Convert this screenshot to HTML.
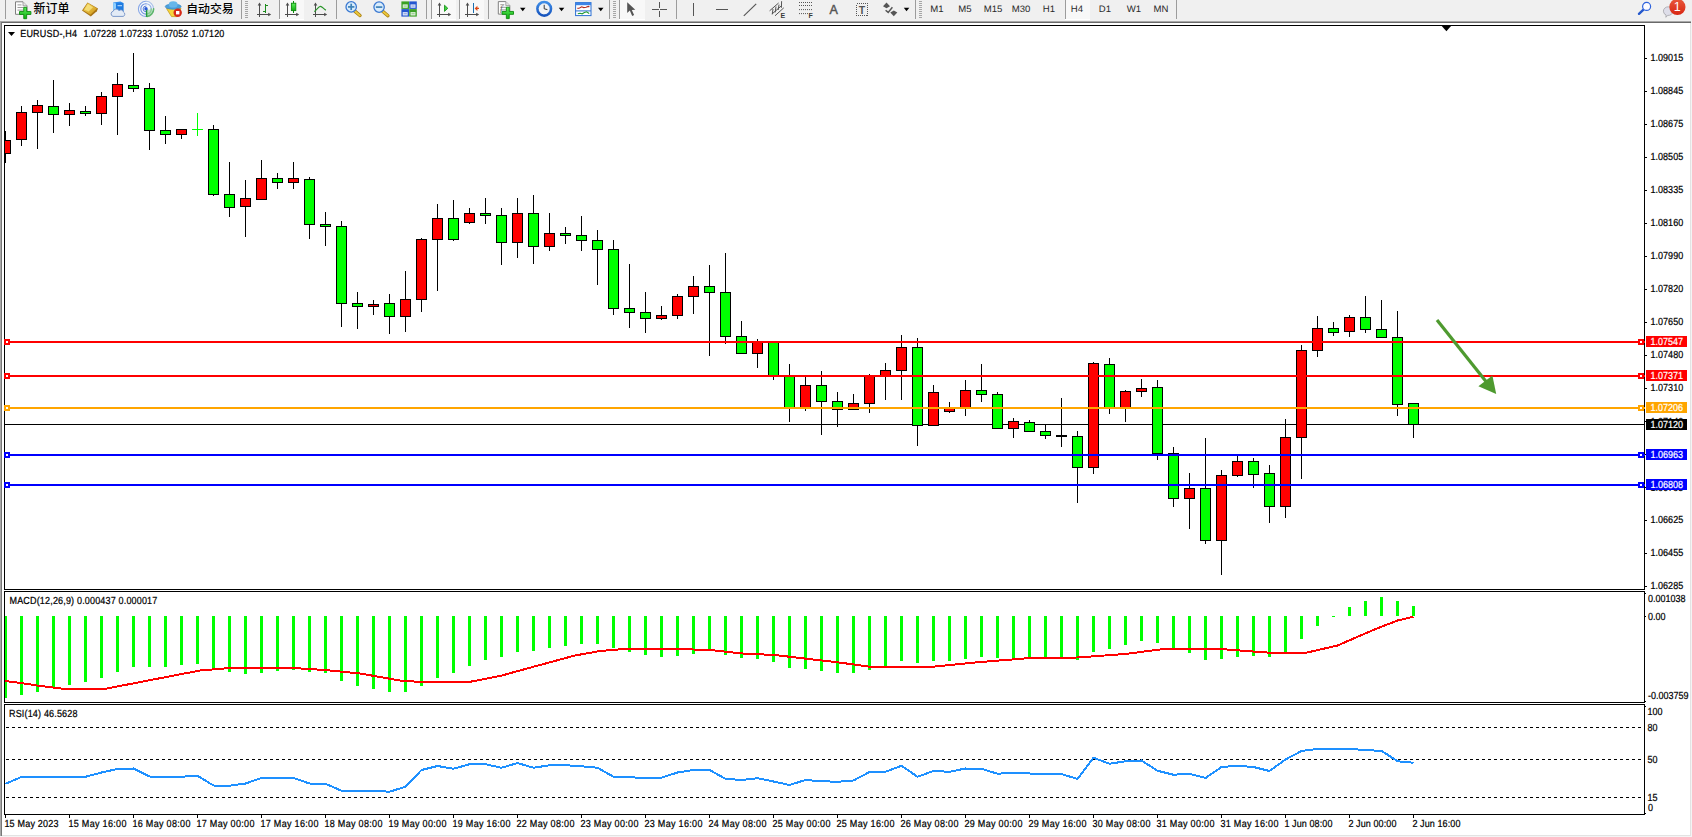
<!DOCTYPE html>
<html lang="zh-CN">
<head>
<meta charset="utf-8">
<title>EURUSD-,H4</title>
<style>
html,body{margin:0;padding:0;}
body{width:1692px;height:837px;overflow:hidden;background:#f0f0f0;position:relative;font-family:"Liberation Sans","Noto Sans CJK SC",sans-serif;}
#tb{position:absolute;left:0;top:0;width:1692px;height:21px;background:#f0f0f0;overflow:hidden;}
#tb .t{position:absolute;white-space:nowrap;color:#000;}
#tb .tf{position:absolute;top:4.4px;font-size:9.3px;line-height:11px;color:#2a2a2a;white-space:nowrap;text-rendering:geometricPrecision;transform:scaleX(1.03);transform-origin:50% 50%;}
#tb .sep{position:absolute;top:1px;width:1px;height:18px;background:#a0a0a0;}
#tb svg{position:absolute;left:0;top:0;}
</style>
</head>
<body>
<svg id="chart" width="1692" height="837" viewBox="0 0 1692 837" style="position:absolute;left:0;top:0">
<g shape-rendering="crispEdges">
<rect x="0" y="21" width="1692" height="816" fill="#ffffff"/>
<rect x="0" y="20" width="1692" height="1" fill="#f5f5f5"/>
<rect x="0" y="21" width="1692" height="1" fill="#a8a8a8"/>
<rect x="0" y="22" width="1692" height="1" fill="#696969"/>
<rect x="0" y="21" width="1" height="816" fill="#a8a8a8"/>
<rect x="1" y="22" width="1" height="815" fill="#787878"/>
<rect x="1690" y="23" width="1" height="813" fill="#e3e3e3"/>
<rect x="2" y="835" width="1689" height="1" fill="#e3e3e3"/>
<rect x="1691" y="21" width="1" height="816" fill="#f4f4f4"/>
<rect x="0" y="836" width="1692" height="1" fill="#f4f4f4"/>
<rect x="4" y="25" width="1641" height="1" fill="#000"/>
<rect x="4" y="589" width="1641" height="1" fill="#000"/>
<rect x="4" y="25" width="1" height="565" fill="#000"/>
<rect x="1644" y="25" width="1" height="565" fill="#000"/>
<rect x="4" y="591" width="1641" height="1" fill="#000"/>
<rect x="4" y="702" width="1641" height="1" fill="#000"/>
<rect x="4" y="591" width="1" height="112" fill="#000"/>
<rect x="1644" y="591" width="1" height="112" fill="#000"/>
<rect x="4" y="704" width="1641" height="1" fill="#000"/>
<rect x="4" y="814" width="1641" height="1" fill="#000"/>
<rect x="4" y="704" width="1" height="111" fill="#000"/>
<rect x="1644" y="704" width="1" height="111" fill="#000"/>
<rect x="5" y="424" width="1639" height="1" fill="#000"/>
<rect x="5" y="131" width="1" height="32" fill="#000"/>
<rect x="5" y="140" width="6" height="14" fill="#000"/>
<rect x="5" y="141" width="5" height="12" fill="#ff0000"/>
<rect x="21" y="106" width="1" height="40" fill="#000"/>
<rect x="16" y="112" width="11" height="28" fill="#000"/>
<rect x="17" y="113" width="9" height="26" fill="#ff0000"/>
<rect x="37" y="100" width="1" height="49" fill="#000"/>
<rect x="32" y="105" width="11" height="8" fill="#000"/>
<rect x="33" y="106" width="9" height="6" fill="#ff0000"/>
<rect x="53" y="80" width="1" height="53" fill="#000"/>
<rect x="48" y="106" width="11" height="9" fill="#000"/>
<rect x="49" y="107" width="9" height="7" fill="#00ff00"/>
<rect x="69" y="103" width="1" height="23" fill="#000"/>
<rect x="64" y="110" width="11" height="5" fill="#000"/>
<rect x="65" y="111" width="9" height="3" fill="#ff0000"/>
<rect x="85" y="106" width="1" height="10" fill="#000"/>
<rect x="80" y="111" width="11" height="3" fill="#000"/>
<rect x="81" y="112" width="9" height="1" fill="#00ff00"/>
<rect x="101" y="92" width="1" height="33" fill="#000"/>
<rect x="96" y="96" width="11" height="18" fill="#000"/>
<rect x="97" y="97" width="9" height="16" fill="#ff0000"/>
<rect x="117" y="73" width="1" height="62" fill="#000"/>
<rect x="112" y="84" width="11" height="13" fill="#000"/>
<rect x="113" y="85" width="9" height="11" fill="#ff0000"/>
<rect x="133" y="53" width="1" height="39" fill="#000"/>
<rect x="128" y="85" width="11" height="4" fill="#000"/>
<rect x="129" y="86" width="9" height="2" fill="#00ff00"/>
<rect x="149" y="83" width="1" height="67" fill="#000"/>
<rect x="144" y="88" width="11" height="43" fill="#000"/>
<rect x="145" y="89" width="9" height="41" fill="#00ff00"/>
<rect x="165" y="116" width="1" height="28" fill="#000"/>
<rect x="160" y="130" width="11" height="5" fill="#000"/>
<rect x="161" y="131" width="9" height="3" fill="#00ff00"/>
<rect x="181" y="129" width="1" height="10" fill="#000"/>
<rect x="176" y="129" width="11" height="6" fill="#000"/>
<rect x="177" y="130" width="9" height="4" fill="#ff0000"/>
<rect x="197" y="113" width="1" height="23" fill="#00ff00"/>
<rect x="192" y="129" width="11" height="1" fill="#00ff00"/>
<rect x="213" y="125" width="1" height="71" fill="#000"/>
<rect x="208" y="129" width="11" height="66" fill="#000"/>
<rect x="209" y="130" width="9" height="64" fill="#00ff00"/>
<rect x="229" y="162" width="1" height="55" fill="#000"/>
<rect x="224" y="194" width="11" height="14" fill="#000"/>
<rect x="225" y="195" width="9" height="12" fill="#00ff00"/>
<rect x="245" y="180" width="1" height="57" fill="#000"/>
<rect x="240" y="198" width="11" height="9" fill="#000"/>
<rect x="241" y="199" width="9" height="7" fill="#ff0000"/>
<rect x="261" y="160" width="1" height="40" fill="#000"/>
<rect x="256" y="178" width="11" height="22" fill="#000"/>
<rect x="257" y="179" width="9" height="20" fill="#ff0000"/>
<rect x="277" y="173" width="1" height="16" fill="#000"/>
<rect x="272" y="178" width="11" height="5" fill="#000"/>
<rect x="273" y="179" width="9" height="3" fill="#00ff00"/>
<rect x="293" y="162" width="1" height="27" fill="#000"/>
<rect x="288" y="178" width="11" height="5" fill="#000"/>
<rect x="289" y="179" width="9" height="3" fill="#ff0000"/>
<rect x="309" y="177" width="1" height="62" fill="#000"/>
<rect x="304" y="179" width="11" height="46" fill="#000"/>
<rect x="305" y="180" width="9" height="44" fill="#00ff00"/>
<rect x="325" y="212" width="1" height="34" fill="#000"/>
<rect x="320" y="224" width="11" height="3" fill="#000"/>
<rect x="321" y="225" width="9" height="1" fill="#00ff00"/>
<rect x="341" y="221" width="1" height="106" fill="#000"/>
<rect x="336" y="226" width="11" height="78" fill="#000"/>
<rect x="337" y="227" width="9" height="76" fill="#00ff00"/>
<rect x="357" y="292" width="1" height="37" fill="#000"/>
<rect x="352" y="303" width="11" height="4" fill="#000"/>
<rect x="353" y="304" width="9" height="2" fill="#00ff00"/>
<rect x="373" y="300" width="1" height="15" fill="#000"/>
<rect x="368" y="304" width="11" height="3" fill="#000"/>
<rect x="369" y="305" width="9" height="1" fill="#ff0000"/>
<rect x="389" y="294" width="1" height="40" fill="#000"/>
<rect x="384" y="303" width="11" height="14" fill="#000"/>
<rect x="385" y="304" width="9" height="12" fill="#00ff00"/>
<rect x="405" y="271" width="1" height="61" fill="#000"/>
<rect x="400" y="299" width="11" height="18" fill="#000"/>
<rect x="401" y="300" width="9" height="16" fill="#ff0000"/>
<rect x="421" y="238" width="1" height="74" fill="#000"/>
<rect x="416" y="239" width="11" height="61" fill="#000"/>
<rect x="417" y="240" width="9" height="59" fill="#ff0000"/>
<rect x="437" y="204" width="1" height="87" fill="#000"/>
<rect x="432" y="218" width="11" height="22" fill="#000"/>
<rect x="433" y="219" width="9" height="20" fill="#ff0000"/>
<rect x="453" y="200" width="1" height="41" fill="#000"/>
<rect x="448" y="218" width="11" height="22" fill="#000"/>
<rect x="449" y="219" width="9" height="20" fill="#00ff00"/>
<rect x="469" y="208" width="1" height="16" fill="#000"/>
<rect x="464" y="213" width="11" height="10" fill="#000"/>
<rect x="465" y="214" width="9" height="8" fill="#ff0000"/>
<rect x="485" y="198" width="1" height="26" fill="#000"/>
<rect x="480" y="213" width="11" height="3" fill="#000"/>
<rect x="481" y="214" width="9" height="1" fill="#00ff00"/>
<rect x="501" y="208" width="1" height="57" fill="#000"/>
<rect x="496" y="215" width="11" height="28" fill="#000"/>
<rect x="497" y="216" width="9" height="26" fill="#00ff00"/>
<rect x="517" y="198" width="1" height="60" fill="#000"/>
<rect x="512" y="213" width="11" height="30" fill="#000"/>
<rect x="513" y="214" width="9" height="28" fill="#ff0000"/>
<rect x="533" y="195" width="1" height="69" fill="#000"/>
<rect x="528" y="213" width="11" height="34" fill="#000"/>
<rect x="529" y="214" width="9" height="32" fill="#00ff00"/>
<rect x="549" y="213" width="1" height="38" fill="#000"/>
<rect x="544" y="233" width="11" height="14" fill="#000"/>
<rect x="545" y="234" width="9" height="12" fill="#ff0000"/>
<rect x="565" y="227" width="1" height="17" fill="#000"/>
<rect x="560" y="233" width="11" height="3" fill="#000"/>
<rect x="561" y="234" width="9" height="1" fill="#00ff00"/>
<rect x="581" y="216" width="1" height="35" fill="#000"/>
<rect x="576" y="235" width="11" height="6" fill="#000"/>
<rect x="577" y="236" width="9" height="4" fill="#00ff00"/>
<rect x="597" y="230" width="1" height="55" fill="#000"/>
<rect x="592" y="240" width="11" height="10" fill="#000"/>
<rect x="593" y="241" width="9" height="8" fill="#00ff00"/>
<rect x="613" y="240" width="1" height="75" fill="#000"/>
<rect x="608" y="249" width="11" height="60" fill="#000"/>
<rect x="609" y="250" width="9" height="58" fill="#00ff00"/>
<rect x="629" y="264" width="1" height="64" fill="#000"/>
<rect x="624" y="308" width="11" height="5" fill="#000"/>
<rect x="625" y="309" width="9" height="3" fill="#00ff00"/>
<rect x="645" y="292" width="1" height="41" fill="#000"/>
<rect x="640" y="312" width="11" height="7" fill="#000"/>
<rect x="641" y="313" width="9" height="5" fill="#00ff00"/>
<rect x="661" y="306" width="1" height="14" fill="#000"/>
<rect x="656" y="315" width="11" height="4" fill="#000"/>
<rect x="657" y="316" width="9" height="2" fill="#ff0000"/>
<rect x="677" y="294" width="1" height="25" fill="#000"/>
<rect x="672" y="296" width="11" height="20" fill="#000"/>
<rect x="673" y="297" width="9" height="18" fill="#ff0000"/>
<rect x="693" y="276" width="1" height="38" fill="#000"/>
<rect x="688" y="286" width="11" height="11" fill="#000"/>
<rect x="689" y="287" width="9" height="9" fill="#ff0000"/>
<rect x="709" y="265" width="1" height="91" fill="#000"/>
<rect x="704" y="286" width="11" height="7" fill="#000"/>
<rect x="705" y="287" width="9" height="5" fill="#00ff00"/>
<rect x="725" y="253" width="1" height="91" fill="#000"/>
<rect x="720" y="292" width="11" height="45" fill="#000"/>
<rect x="721" y="293" width="9" height="43" fill="#00ff00"/>
<rect x="741" y="321" width="1" height="33" fill="#000"/>
<rect x="736" y="336" width="11" height="18" fill="#000"/>
<rect x="737" y="337" width="9" height="16" fill="#00ff00"/>
<rect x="757" y="339" width="1" height="29" fill="#000"/>
<rect x="752" y="341" width="11" height="13" fill="#000"/>
<rect x="753" y="342" width="9" height="11" fill="#ff0000"/>
<rect x="773" y="341" width="1" height="39" fill="#000"/>
<rect x="768" y="341" width="11" height="36" fill="#000"/>
<rect x="769" y="342" width="9" height="34" fill="#00ff00"/>
<rect x="789" y="364" width="1" height="58" fill="#000"/>
<rect x="784" y="376" width="11" height="32" fill="#000"/>
<rect x="785" y="377" width="9" height="30" fill="#00ff00"/>
<rect x="805" y="377" width="1" height="34" fill="#000"/>
<rect x="800" y="385" width="11" height="23" fill="#000"/>
<rect x="801" y="386" width="9" height="21" fill="#ff0000"/>
<rect x="821" y="371" width="1" height="64" fill="#000"/>
<rect x="816" y="385" width="11" height="17" fill="#000"/>
<rect x="817" y="386" width="9" height="15" fill="#00ff00"/>
<rect x="837" y="392" width="1" height="35" fill="#000"/>
<rect x="832" y="401" width="11" height="9" fill="#000"/>
<rect x="833" y="402" width="9" height="7" fill="#00ff00"/>
<rect x="853" y="394" width="1" height="16" fill="#000"/>
<rect x="848" y="403" width="11" height="7" fill="#000"/>
<rect x="849" y="404" width="9" height="5" fill="#ff0000"/>
<rect x="869" y="374" width="1" height="39" fill="#000"/>
<rect x="864" y="376" width="11" height="28" fill="#000"/>
<rect x="865" y="377" width="9" height="26" fill="#ff0000"/>
<rect x="885" y="363" width="1" height="37" fill="#000"/>
<rect x="880" y="370" width="11" height="6" fill="#000"/>
<rect x="881" y="371" width="9" height="4" fill="#ff0000"/>
<rect x="901" y="335" width="1" height="65" fill="#000"/>
<rect x="896" y="347" width="11" height="24" fill="#000"/>
<rect x="897" y="348" width="9" height="22" fill="#ff0000"/>
<rect x="917" y="338" width="1" height="108" fill="#000"/>
<rect x="912" y="347" width="11" height="79" fill="#000"/>
<rect x="913" y="348" width="9" height="77" fill="#00ff00"/>
<rect x="933" y="385" width="1" height="41" fill="#000"/>
<rect x="928" y="392" width="11" height="34" fill="#000"/>
<rect x="929" y="393" width="9" height="32" fill="#ff0000"/>
<rect x="949" y="402" width="1" height="11" fill="#000"/>
<rect x="944" y="407" width="11" height="5" fill="#000"/>
<rect x="945" y="408" width="9" height="3" fill="#ff0000"/>
<rect x="965" y="380" width="1" height="36" fill="#000"/>
<rect x="960" y="390" width="11" height="18" fill="#000"/>
<rect x="961" y="391" width="9" height="16" fill="#ff0000"/>
<rect x="981" y="364" width="1" height="38" fill="#000"/>
<rect x="976" y="390" width="11" height="5" fill="#000"/>
<rect x="977" y="391" width="9" height="3" fill="#00ff00"/>
<rect x="997" y="392" width="1" height="37" fill="#000"/>
<rect x="992" y="394" width="11" height="35" fill="#000"/>
<rect x="993" y="395" width="9" height="33" fill="#00ff00"/>
<rect x="1013" y="418" width="1" height="20" fill="#000"/>
<rect x="1008" y="421" width="11" height="8" fill="#000"/>
<rect x="1009" y="422" width="9" height="6" fill="#ff0000"/>
<rect x="1029" y="420" width="1" height="12" fill="#000"/>
<rect x="1024" y="422" width="11" height="10" fill="#000"/>
<rect x="1025" y="423" width="9" height="8" fill="#00ff00"/>
<rect x="1045" y="425" width="1" height="14" fill="#000"/>
<rect x="1040" y="431" width="11" height="5" fill="#000"/>
<rect x="1041" y="432" width="9" height="3" fill="#00ff00"/>
<rect x="1061" y="398" width="1" height="49" fill="#000"/>
<rect x="1056" y="435" width="11" height="2" fill="#000"/>
<rect x="1077" y="431" width="1" height="72" fill="#000"/>
<rect x="1072" y="436" width="11" height="32" fill="#000"/>
<rect x="1073" y="437" width="9" height="30" fill="#00ff00"/>
<rect x="1093" y="362" width="1" height="112" fill="#000"/>
<rect x="1088" y="363" width="11" height="105" fill="#000"/>
<rect x="1089" y="364" width="9" height="103" fill="#ff0000"/>
<rect x="1109" y="358" width="1" height="56" fill="#000"/>
<rect x="1104" y="364" width="11" height="44" fill="#000"/>
<rect x="1105" y="365" width="9" height="42" fill="#00ff00"/>
<rect x="1125" y="390" width="1" height="32" fill="#000"/>
<rect x="1120" y="391" width="11" height="17" fill="#000"/>
<rect x="1121" y="392" width="9" height="15" fill="#ff0000"/>
<rect x="1141" y="379" width="1" height="18" fill="#000"/>
<rect x="1136" y="388" width="11" height="4" fill="#000"/>
<rect x="1137" y="389" width="9" height="2" fill="#ff0000"/>
<rect x="1157" y="380" width="1" height="80" fill="#000"/>
<rect x="1152" y="387" width="11" height="67" fill="#000"/>
<rect x="1153" y="388" width="9" height="65" fill="#00ff00"/>
<rect x="1173" y="447" width="1" height="60" fill="#000"/>
<rect x="1168" y="453" width="11" height="46" fill="#000"/>
<rect x="1169" y="454" width="9" height="44" fill="#00ff00"/>
<rect x="1189" y="473" width="1" height="56" fill="#000"/>
<rect x="1184" y="488" width="11" height="11" fill="#000"/>
<rect x="1185" y="489" width="9" height="9" fill="#ff0000"/>
<rect x="1205" y="438" width="1" height="106" fill="#000"/>
<rect x="1200" y="488" width="11" height="53" fill="#000"/>
<rect x="1201" y="489" width="9" height="51" fill="#00ff00"/>
<rect x="1221" y="470" width="1" height="105" fill="#000"/>
<rect x="1216" y="475" width="11" height="66" fill="#000"/>
<rect x="1217" y="476" width="9" height="64" fill="#ff0000"/>
<rect x="1237" y="456" width="1" height="21" fill="#000"/>
<rect x="1232" y="461" width="11" height="15" fill="#000"/>
<rect x="1233" y="462" width="9" height="13" fill="#ff0000"/>
<rect x="1253" y="458" width="1" height="30" fill="#000"/>
<rect x="1248" y="461" width="11" height="14" fill="#000"/>
<rect x="1249" y="462" width="9" height="12" fill="#00ff00"/>
<rect x="1269" y="465" width="1" height="58" fill="#000"/>
<rect x="1264" y="473" width="11" height="34" fill="#000"/>
<rect x="1265" y="474" width="9" height="32" fill="#00ff00"/>
<rect x="1285" y="419" width="1" height="99" fill="#000"/>
<rect x="1280" y="437" width="11" height="70" fill="#000"/>
<rect x="1281" y="438" width="9" height="68" fill="#ff0000"/>
<rect x="1301" y="345" width="1" height="134" fill="#000"/>
<rect x="1296" y="350" width="11" height="88" fill="#000"/>
<rect x="1297" y="351" width="9" height="86" fill="#ff0000"/>
<rect x="1317" y="316" width="1" height="41" fill="#000"/>
<rect x="1312" y="328" width="11" height="23" fill="#000"/>
<rect x="1313" y="329" width="9" height="21" fill="#ff0000"/>
<rect x="1333" y="322" width="1" height="14" fill="#000"/>
<rect x="1328" y="328" width="11" height="5" fill="#000"/>
<rect x="1329" y="329" width="9" height="3" fill="#00ff00"/>
<rect x="1349" y="315" width="1" height="22" fill="#000"/>
<rect x="1344" y="317" width="11" height="15" fill="#000"/>
<rect x="1345" y="318" width="9" height="13" fill="#ff0000"/>
<rect x="1365" y="296" width="1" height="37" fill="#000"/>
<rect x="1360" y="317" width="11" height="13" fill="#000"/>
<rect x="1361" y="318" width="9" height="11" fill="#00ff00"/>
<rect x="1381" y="300" width="1" height="38" fill="#000"/>
<rect x="1376" y="329" width="11" height="9" fill="#000"/>
<rect x="1377" y="330" width="9" height="7" fill="#00ff00"/>
<rect x="1397" y="311" width="1" height="105" fill="#000"/>
<rect x="1392" y="337" width="11" height="68" fill="#000"/>
<rect x="1393" y="338" width="9" height="66" fill="#00ff00"/>
<rect x="1413" y="403" width="1" height="35" fill="#000"/>
<rect x="1408" y="403" width="11" height="22" fill="#000"/>
<rect x="1409" y="404" width="9" height="20" fill="#00ff00"/>
<rect x="5" y="341" width="1640" height="2" fill="#ff0000"/>
<rect x="4" y="339" width="6" height="6" fill="#ff0000"/>
<rect x="6" y="341" width="2" height="2" fill="#fff"/>
<rect x="1638" y="339" width="6" height="6" fill="#ff0000"/>
<rect x="1640" y="341" width="2" height="2" fill="#fff"/>
<rect x="5" y="375" width="1640" height="2" fill="#ff0000"/>
<rect x="4" y="373" width="6" height="6" fill="#ff0000"/>
<rect x="6" y="375" width="2" height="2" fill="#fff"/>
<rect x="1638" y="373" width="6" height="6" fill="#ff0000"/>
<rect x="1640" y="375" width="2" height="2" fill="#fff"/>
<rect x="5" y="407" width="1640" height="2" fill="#ffa500"/>
<rect x="4" y="405" width="6" height="6" fill="#ffa500"/>
<rect x="6" y="407" width="2" height="2" fill="#fff"/>
<rect x="1638" y="405" width="6" height="6" fill="#ffa500"/>
<rect x="1640" y="407" width="2" height="2" fill="#fff"/>
<rect x="5" y="454" width="1640" height="2" fill="#0000ff"/>
<rect x="4" y="452" width="6" height="6" fill="#0000ff"/>
<rect x="6" y="454" width="2" height="2" fill="#fff"/>
<rect x="1638" y="452" width="6" height="6" fill="#0000ff"/>
<rect x="1640" y="454" width="2" height="2" fill="#fff"/>
<rect x="5" y="484" width="1640" height="2" fill="#0000ff"/>
<rect x="4" y="482" width="6" height="6" fill="#0000ff"/>
<rect x="6" y="484" width="2" height="2" fill="#fff"/>
<rect x="1638" y="482" width="6" height="6" fill="#0000ff"/>
<rect x="1640" y="484" width="2" height="2" fill="#fff"/>
<rect x="5" y="616" width="2" height="81.5" fill="#00ff00"/>
<rect x="20" y="616" width="3" height="79" fill="#00ff00"/>
<rect x="36" y="616" width="3" height="75.75" fill="#00ff00"/>
<rect x="52" y="616" width="3" height="72" fill="#00ff00"/>
<rect x="68" y="616" width="3" height="68.75" fill="#00ff00"/>
<rect x="84" y="616" width="3" height="65.75" fill="#00ff00"/>
<rect x="100" y="616" width="3" height="61.5" fill="#00ff00"/>
<rect x="116" y="616" width="3" height="55.75" fill="#00ff00"/>
<rect x="132" y="616" width="3" height="50.75" fill="#00ff00"/>
<rect x="148" y="616" width="3" height="50.75" fill="#00ff00"/>
<rect x="164" y="616" width="3" height="50.75" fill="#00ff00"/>
<rect x="180" y="616" width="3" height="48.75" fill="#00ff00"/>
<rect x="196" y="616" width="3" height="47.5" fill="#00ff00"/>
<rect x="212" y="616" width="3" height="52" fill="#00ff00"/>
<rect x="228" y="616" width="3" height="55.75" fill="#00ff00"/>
<rect x="244" y="616" width="3" height="57.75" fill="#00ff00"/>
<rect x="260" y="616" width="3" height="57" fill="#00ff00"/>
<rect x="276" y="616" width="3" height="55" fill="#00ff00"/>
<rect x="292" y="616" width="3" height="54" fill="#00ff00"/>
<rect x="308" y="616" width="3" height="55.75" fill="#00ff00"/>
<rect x="324" y="616" width="3" height="57" fill="#00ff00"/>
<rect x="340" y="616" width="3" height="65" fill="#00ff00"/>
<rect x="356" y="616" width="3" height="70" fill="#00ff00"/>
<rect x="372" y="616" width="3" height="72.75" fill="#00ff00"/>
<rect x="388" y="616" width="3" height="75.75" fill="#00ff00"/>
<rect x="404" y="616" width="3" height="75.75" fill="#00ff00"/>
<rect x="420" y="616" width="3" height="69.5" fill="#00ff00"/>
<rect x="436" y="616" width="3" height="61.5" fill="#00ff00"/>
<rect x="452" y="616" width="3" height="57" fill="#00ff00"/>
<rect x="468" y="616" width="3" height="50" fill="#00ff00"/>
<rect x="484" y="616" width="3" height="43.75" fill="#00ff00"/>
<rect x="500" y="616" width="3" height="40.75" fill="#00ff00"/>
<rect x="516" y="616" width="3" height="35.75" fill="#00ff00"/>
<rect x="532" y="616" width="3" height="34.5" fill="#00ff00"/>
<rect x="548" y="616" width="3" height="32" fill="#00ff00"/>
<rect x="564" y="616" width="3" height="30" fill="#00ff00"/>
<rect x="580" y="616" width="3" height="27.75" fill="#00ff00"/>
<rect x="596" y="616" width="3" height="27.75" fill="#00ff00"/>
<rect x="612" y="616" width="3" height="32" fill="#00ff00"/>
<rect x="628" y="616" width="3" height="35.75" fill="#00ff00"/>
<rect x="644" y="616" width="3" height="39" fill="#00ff00"/>
<rect x="660" y="616" width="3" height="40.75" fill="#00ff00"/>
<rect x="676" y="616" width="3" height="40" fill="#00ff00"/>
<rect x="692" y="616" width="3" height="38" fill="#00ff00"/>
<rect x="708" y="616" width="3" height="35" fill="#00ff00"/>
<rect x="724" y="616" width="3" height="39" fill="#00ff00"/>
<rect x="740" y="616" width="3" height="41.75" fill="#00ff00"/>
<rect x="756" y="616" width="3" height="43" fill="#00ff00"/>
<rect x="772" y="616" width="3" height="46" fill="#00ff00"/>
<rect x="788" y="616" width="3" height="52" fill="#00ff00"/>
<rect x="804" y="616" width="3" height="52.75" fill="#00ff00"/>
<rect x="820" y="616" width="3" height="54.75" fill="#00ff00"/>
<rect x="836" y="616" width="3" height="56.75" fill="#00ff00"/>
<rect x="852" y="616" width="3" height="56.75" fill="#00ff00"/>
<rect x="868" y="616" width="3" height="53.75" fill="#00ff00"/>
<rect x="884" y="616" width="3" height="50" fill="#00ff00"/>
<rect x="900" y="616" width="3" height="45" fill="#00ff00"/>
<rect x="916" y="616" width="3" height="46.75" fill="#00ff00"/>
<rect x="932" y="616" width="3" height="45" fill="#00ff00"/>
<rect x="948" y="616" width="3" height="45" fill="#00ff00"/>
<rect x="964" y="616" width="3" height="43" fill="#00ff00"/>
<rect x="980" y="616" width="3" height="40.75" fill="#00ff00"/>
<rect x="996" y="616" width="3" height="42" fill="#00ff00"/>
<rect x="1012" y="616" width="3" height="42" fill="#00ff00"/>
<rect x="1028" y="616" width="3" height="41.5" fill="#00ff00"/>
<rect x="1044" y="616" width="3" height="41" fill="#00ff00"/>
<rect x="1060" y="616" width="3" height="41" fill="#00ff00"/>
<rect x="1076" y="616" width="3" height="43.75" fill="#00ff00"/>
<rect x="1092" y="616" width="3" height="35.75" fill="#00ff00"/>
<rect x="1108" y="616" width="3" height="32.75" fill="#00ff00"/>
<rect x="1124" y="616" width="3" height="29" fill="#00ff00"/>
<rect x="1140" y="616" width="3" height="24.75" fill="#00ff00"/>
<rect x="1156" y="616" width="3" height="26.75" fill="#00ff00"/>
<rect x="1172" y="616" width="3" height="33" fill="#00ff00"/>
<rect x="1188" y="616" width="3" height="36.75" fill="#00ff00"/>
<rect x="1204" y="616" width="3" height="43.75" fill="#00ff00"/>
<rect x="1220" y="616" width="3" height="42.75" fill="#00ff00"/>
<rect x="1236" y="616" width="3" height="40.75" fill="#00ff00"/>
<rect x="1252" y="616" width="3" height="39.75" fill="#00ff00"/>
<rect x="1268" y="616" width="3" height="40.75" fill="#00ff00"/>
<rect x="1284" y="616" width="3" height="36.5" fill="#00ff00"/>
<rect x="1300" y="616" width="3" height="22.75" fill="#00ff00"/>
<rect x="1316" y="616" width="3" height="9.75" fill="#00ff00"/>
<rect x="1332" y="616" width="3" height="1" fill="#00ff00"/>
<rect x="1348" y="607" width="3" height="9" fill="#00ff00"/>
<rect x="1364" y="601" width="3" height="15" fill="#00ff00"/>
<rect x="1380" y="597" width="3" height="19" fill="#00ff00"/>
<rect x="1396" y="601" width="3" height="15" fill="#00ff00"/>
<rect x="1412" y="606" width="3" height="10" fill="#00ff00"/>
<rect x="6" y="727" width="3" height="1" fill="#000"/>
<rect x="12" y="727" width="3" height="1" fill="#000"/>
<rect x="18" y="727" width="3" height="1" fill="#000"/>
<rect x="24" y="727" width="3" height="1" fill="#000"/>
<rect x="30" y="727" width="3" height="1" fill="#000"/>
<rect x="36" y="727" width="3" height="1" fill="#000"/>
<rect x="42" y="727" width="3" height="1" fill="#000"/>
<rect x="48" y="727" width="3" height="1" fill="#000"/>
<rect x="54" y="727" width="3" height="1" fill="#000"/>
<rect x="60" y="727" width="3" height="1" fill="#000"/>
<rect x="66" y="727" width="3" height="1" fill="#000"/>
<rect x="72" y="727" width="3" height="1" fill="#000"/>
<rect x="78" y="727" width="3" height="1" fill="#000"/>
<rect x="84" y="727" width="3" height="1" fill="#000"/>
<rect x="90" y="727" width="3" height="1" fill="#000"/>
<rect x="96" y="727" width="3" height="1" fill="#000"/>
<rect x="102" y="727" width="3" height="1" fill="#000"/>
<rect x="108" y="727" width="3" height="1" fill="#000"/>
<rect x="114" y="727" width="3" height="1" fill="#000"/>
<rect x="120" y="727" width="3" height="1" fill="#000"/>
<rect x="126" y="727" width="3" height="1" fill="#000"/>
<rect x="132" y="727" width="3" height="1" fill="#000"/>
<rect x="138" y="727" width="3" height="1" fill="#000"/>
<rect x="144" y="727" width="3" height="1" fill="#000"/>
<rect x="150" y="727" width="3" height="1" fill="#000"/>
<rect x="156" y="727" width="3" height="1" fill="#000"/>
<rect x="162" y="727" width="3" height="1" fill="#000"/>
<rect x="168" y="727" width="3" height="1" fill="#000"/>
<rect x="174" y="727" width="3" height="1" fill="#000"/>
<rect x="180" y="727" width="3" height="1" fill="#000"/>
<rect x="186" y="727" width="3" height="1" fill="#000"/>
<rect x="192" y="727" width="3" height="1" fill="#000"/>
<rect x="198" y="727" width="3" height="1" fill="#000"/>
<rect x="204" y="727" width="3" height="1" fill="#000"/>
<rect x="210" y="727" width="3" height="1" fill="#000"/>
<rect x="216" y="727" width="3" height="1" fill="#000"/>
<rect x="222" y="727" width="3" height="1" fill="#000"/>
<rect x="228" y="727" width="3" height="1" fill="#000"/>
<rect x="234" y="727" width="3" height="1" fill="#000"/>
<rect x="240" y="727" width="3" height="1" fill="#000"/>
<rect x="246" y="727" width="3" height="1" fill="#000"/>
<rect x="252" y="727" width="3" height="1" fill="#000"/>
<rect x="258" y="727" width="3" height="1" fill="#000"/>
<rect x="264" y="727" width="3" height="1" fill="#000"/>
<rect x="270" y="727" width="3" height="1" fill="#000"/>
<rect x="276" y="727" width="3" height="1" fill="#000"/>
<rect x="282" y="727" width="3" height="1" fill="#000"/>
<rect x="288" y="727" width="3" height="1" fill="#000"/>
<rect x="294" y="727" width="3" height="1" fill="#000"/>
<rect x="300" y="727" width="3" height="1" fill="#000"/>
<rect x="306" y="727" width="3" height="1" fill="#000"/>
<rect x="312" y="727" width="3" height="1" fill="#000"/>
<rect x="318" y="727" width="3" height="1" fill="#000"/>
<rect x="324" y="727" width="3" height="1" fill="#000"/>
<rect x="330" y="727" width="3" height="1" fill="#000"/>
<rect x="336" y="727" width="3" height="1" fill="#000"/>
<rect x="342" y="727" width="3" height="1" fill="#000"/>
<rect x="348" y="727" width="3" height="1" fill="#000"/>
<rect x="354" y="727" width="3" height="1" fill="#000"/>
<rect x="360" y="727" width="3" height="1" fill="#000"/>
<rect x="366" y="727" width="3" height="1" fill="#000"/>
<rect x="372" y="727" width="3" height="1" fill="#000"/>
<rect x="378" y="727" width="3" height="1" fill="#000"/>
<rect x="384" y="727" width="3" height="1" fill="#000"/>
<rect x="390" y="727" width="3" height="1" fill="#000"/>
<rect x="396" y="727" width="3" height="1" fill="#000"/>
<rect x="402" y="727" width="3" height="1" fill="#000"/>
<rect x="408" y="727" width="3" height="1" fill="#000"/>
<rect x="414" y="727" width="3" height="1" fill="#000"/>
<rect x="420" y="727" width="3" height="1" fill="#000"/>
<rect x="426" y="727" width="3" height="1" fill="#000"/>
<rect x="432" y="727" width="3" height="1" fill="#000"/>
<rect x="438" y="727" width="3" height="1" fill="#000"/>
<rect x="444" y="727" width="3" height="1" fill="#000"/>
<rect x="450" y="727" width="3" height="1" fill="#000"/>
<rect x="456" y="727" width="3" height="1" fill="#000"/>
<rect x="462" y="727" width="3" height="1" fill="#000"/>
<rect x="468" y="727" width="3" height="1" fill="#000"/>
<rect x="474" y="727" width="3" height="1" fill="#000"/>
<rect x="480" y="727" width="3" height="1" fill="#000"/>
<rect x="486" y="727" width="3" height="1" fill="#000"/>
<rect x="492" y="727" width="3" height="1" fill="#000"/>
<rect x="498" y="727" width="3" height="1" fill="#000"/>
<rect x="504" y="727" width="3" height="1" fill="#000"/>
<rect x="510" y="727" width="3" height="1" fill="#000"/>
<rect x="516" y="727" width="3" height="1" fill="#000"/>
<rect x="522" y="727" width="3" height="1" fill="#000"/>
<rect x="528" y="727" width="3" height="1" fill="#000"/>
<rect x="534" y="727" width="3" height="1" fill="#000"/>
<rect x="540" y="727" width="3" height="1" fill="#000"/>
<rect x="546" y="727" width="3" height="1" fill="#000"/>
<rect x="552" y="727" width="3" height="1" fill="#000"/>
<rect x="558" y="727" width="3" height="1" fill="#000"/>
<rect x="564" y="727" width="3" height="1" fill="#000"/>
<rect x="570" y="727" width="3" height="1" fill="#000"/>
<rect x="576" y="727" width="3" height="1" fill="#000"/>
<rect x="582" y="727" width="3" height="1" fill="#000"/>
<rect x="588" y="727" width="3" height="1" fill="#000"/>
<rect x="594" y="727" width="3" height="1" fill="#000"/>
<rect x="600" y="727" width="3" height="1" fill="#000"/>
<rect x="606" y="727" width="3" height="1" fill="#000"/>
<rect x="612" y="727" width="3" height="1" fill="#000"/>
<rect x="618" y="727" width="3" height="1" fill="#000"/>
<rect x="624" y="727" width="3" height="1" fill="#000"/>
<rect x="630" y="727" width="3" height="1" fill="#000"/>
<rect x="636" y="727" width="3" height="1" fill="#000"/>
<rect x="642" y="727" width="3" height="1" fill="#000"/>
<rect x="648" y="727" width="3" height="1" fill="#000"/>
<rect x="654" y="727" width="3" height="1" fill="#000"/>
<rect x="660" y="727" width="3" height="1" fill="#000"/>
<rect x="666" y="727" width="3" height="1" fill="#000"/>
<rect x="672" y="727" width="3" height="1" fill="#000"/>
<rect x="678" y="727" width="3" height="1" fill="#000"/>
<rect x="684" y="727" width="3" height="1" fill="#000"/>
<rect x="690" y="727" width="3" height="1" fill="#000"/>
<rect x="696" y="727" width="3" height="1" fill="#000"/>
<rect x="702" y="727" width="3" height="1" fill="#000"/>
<rect x="708" y="727" width="3" height="1" fill="#000"/>
<rect x="714" y="727" width="3" height="1" fill="#000"/>
<rect x="720" y="727" width="3" height="1" fill="#000"/>
<rect x="726" y="727" width="3" height="1" fill="#000"/>
<rect x="732" y="727" width="3" height="1" fill="#000"/>
<rect x="738" y="727" width="3" height="1" fill="#000"/>
<rect x="744" y="727" width="3" height="1" fill="#000"/>
<rect x="750" y="727" width="3" height="1" fill="#000"/>
<rect x="756" y="727" width="3" height="1" fill="#000"/>
<rect x="762" y="727" width="3" height="1" fill="#000"/>
<rect x="768" y="727" width="3" height="1" fill="#000"/>
<rect x="774" y="727" width="3" height="1" fill="#000"/>
<rect x="780" y="727" width="3" height="1" fill="#000"/>
<rect x="786" y="727" width="3" height="1" fill="#000"/>
<rect x="792" y="727" width="3" height="1" fill="#000"/>
<rect x="798" y="727" width="3" height="1" fill="#000"/>
<rect x="804" y="727" width="3" height="1" fill="#000"/>
<rect x="810" y="727" width="3" height="1" fill="#000"/>
<rect x="816" y="727" width="3" height="1" fill="#000"/>
<rect x="822" y="727" width="3" height="1" fill="#000"/>
<rect x="828" y="727" width="3" height="1" fill="#000"/>
<rect x="834" y="727" width="3" height="1" fill="#000"/>
<rect x="840" y="727" width="3" height="1" fill="#000"/>
<rect x="846" y="727" width="3" height="1" fill="#000"/>
<rect x="852" y="727" width="3" height="1" fill="#000"/>
<rect x="858" y="727" width="3" height="1" fill="#000"/>
<rect x="864" y="727" width="3" height="1" fill="#000"/>
<rect x="870" y="727" width="3" height="1" fill="#000"/>
<rect x="876" y="727" width="3" height="1" fill="#000"/>
<rect x="882" y="727" width="3" height="1" fill="#000"/>
<rect x="888" y="727" width="3" height="1" fill="#000"/>
<rect x="894" y="727" width="3" height="1" fill="#000"/>
<rect x="900" y="727" width="3" height="1" fill="#000"/>
<rect x="906" y="727" width="3" height="1" fill="#000"/>
<rect x="912" y="727" width="3" height="1" fill="#000"/>
<rect x="918" y="727" width="3" height="1" fill="#000"/>
<rect x="924" y="727" width="3" height="1" fill="#000"/>
<rect x="930" y="727" width="3" height="1" fill="#000"/>
<rect x="936" y="727" width="3" height="1" fill="#000"/>
<rect x="942" y="727" width="3" height="1" fill="#000"/>
<rect x="948" y="727" width="3" height="1" fill="#000"/>
<rect x="954" y="727" width="3" height="1" fill="#000"/>
<rect x="960" y="727" width="3" height="1" fill="#000"/>
<rect x="966" y="727" width="3" height="1" fill="#000"/>
<rect x="972" y="727" width="3" height="1" fill="#000"/>
<rect x="978" y="727" width="3" height="1" fill="#000"/>
<rect x="984" y="727" width="3" height="1" fill="#000"/>
<rect x="990" y="727" width="3" height="1" fill="#000"/>
<rect x="996" y="727" width="3" height="1" fill="#000"/>
<rect x="1002" y="727" width="3" height="1" fill="#000"/>
<rect x="1008" y="727" width="3" height="1" fill="#000"/>
<rect x="1014" y="727" width="3" height="1" fill="#000"/>
<rect x="1020" y="727" width="3" height="1" fill="#000"/>
<rect x="1026" y="727" width="3" height="1" fill="#000"/>
<rect x="1032" y="727" width="3" height="1" fill="#000"/>
<rect x="1038" y="727" width="3" height="1" fill="#000"/>
<rect x="1044" y="727" width="3" height="1" fill="#000"/>
<rect x="1050" y="727" width="3" height="1" fill="#000"/>
<rect x="1056" y="727" width="3" height="1" fill="#000"/>
<rect x="1062" y="727" width="3" height="1" fill="#000"/>
<rect x="1068" y="727" width="3" height="1" fill="#000"/>
<rect x="1074" y="727" width="3" height="1" fill="#000"/>
<rect x="1080" y="727" width="3" height="1" fill="#000"/>
<rect x="1086" y="727" width="3" height="1" fill="#000"/>
<rect x="1092" y="727" width="3" height="1" fill="#000"/>
<rect x="1098" y="727" width="3" height="1" fill="#000"/>
<rect x="1104" y="727" width="3" height="1" fill="#000"/>
<rect x="1110" y="727" width="3" height="1" fill="#000"/>
<rect x="1116" y="727" width="3" height="1" fill="#000"/>
<rect x="1122" y="727" width="3" height="1" fill="#000"/>
<rect x="1128" y="727" width="3" height="1" fill="#000"/>
<rect x="1134" y="727" width="3" height="1" fill="#000"/>
<rect x="1140" y="727" width="3" height="1" fill="#000"/>
<rect x="1146" y="727" width="3" height="1" fill="#000"/>
<rect x="1152" y="727" width="3" height="1" fill="#000"/>
<rect x="1158" y="727" width="3" height="1" fill="#000"/>
<rect x="1164" y="727" width="3" height="1" fill="#000"/>
<rect x="1170" y="727" width="3" height="1" fill="#000"/>
<rect x="1176" y="727" width="3" height="1" fill="#000"/>
<rect x="1182" y="727" width="3" height="1" fill="#000"/>
<rect x="1188" y="727" width="3" height="1" fill="#000"/>
<rect x="1194" y="727" width="3" height="1" fill="#000"/>
<rect x="1200" y="727" width="3" height="1" fill="#000"/>
<rect x="1206" y="727" width="3" height="1" fill="#000"/>
<rect x="1212" y="727" width="3" height="1" fill="#000"/>
<rect x="1218" y="727" width="3" height="1" fill="#000"/>
<rect x="1224" y="727" width="3" height="1" fill="#000"/>
<rect x="1230" y="727" width="3" height="1" fill="#000"/>
<rect x="1236" y="727" width="3" height="1" fill="#000"/>
<rect x="1242" y="727" width="3" height="1" fill="#000"/>
<rect x="1248" y="727" width="3" height="1" fill="#000"/>
<rect x="1254" y="727" width="3" height="1" fill="#000"/>
<rect x="1260" y="727" width="3" height="1" fill="#000"/>
<rect x="1266" y="727" width="3" height="1" fill="#000"/>
<rect x="1272" y="727" width="3" height="1" fill="#000"/>
<rect x="1278" y="727" width="3" height="1" fill="#000"/>
<rect x="1284" y="727" width="3" height="1" fill="#000"/>
<rect x="1290" y="727" width="3" height="1" fill="#000"/>
<rect x="1296" y="727" width="3" height="1" fill="#000"/>
<rect x="1302" y="727" width="3" height="1" fill="#000"/>
<rect x="1308" y="727" width="3" height="1" fill="#000"/>
<rect x="1314" y="727" width="3" height="1" fill="#000"/>
<rect x="1320" y="727" width="3" height="1" fill="#000"/>
<rect x="1326" y="727" width="3" height="1" fill="#000"/>
<rect x="1332" y="727" width="3" height="1" fill="#000"/>
<rect x="1338" y="727" width="3" height="1" fill="#000"/>
<rect x="1344" y="727" width="3" height="1" fill="#000"/>
<rect x="1350" y="727" width="3" height="1" fill="#000"/>
<rect x="1356" y="727" width="3" height="1" fill="#000"/>
<rect x="1362" y="727" width="3" height="1" fill="#000"/>
<rect x="1368" y="727" width="3" height="1" fill="#000"/>
<rect x="1374" y="727" width="3" height="1" fill="#000"/>
<rect x="1380" y="727" width="3" height="1" fill="#000"/>
<rect x="1386" y="727" width="3" height="1" fill="#000"/>
<rect x="1392" y="727" width="3" height="1" fill="#000"/>
<rect x="1398" y="727" width="3" height="1" fill="#000"/>
<rect x="1404" y="727" width="3" height="1" fill="#000"/>
<rect x="1410" y="727" width="3" height="1" fill="#000"/>
<rect x="1416" y="727" width="3" height="1" fill="#000"/>
<rect x="1422" y="727" width="3" height="1" fill="#000"/>
<rect x="1428" y="727" width="3" height="1" fill="#000"/>
<rect x="1434" y="727" width="3" height="1" fill="#000"/>
<rect x="1440" y="727" width="3" height="1" fill="#000"/>
<rect x="1446" y="727" width="3" height="1" fill="#000"/>
<rect x="1452" y="727" width="3" height="1" fill="#000"/>
<rect x="1458" y="727" width="3" height="1" fill="#000"/>
<rect x="1464" y="727" width="3" height="1" fill="#000"/>
<rect x="1470" y="727" width="3" height="1" fill="#000"/>
<rect x="1476" y="727" width="3" height="1" fill="#000"/>
<rect x="1482" y="727" width="3" height="1" fill="#000"/>
<rect x="1488" y="727" width="3" height="1" fill="#000"/>
<rect x="1494" y="727" width="3" height="1" fill="#000"/>
<rect x="1500" y="727" width="3" height="1" fill="#000"/>
<rect x="1506" y="727" width="3" height="1" fill="#000"/>
<rect x="1512" y="727" width="3" height="1" fill="#000"/>
<rect x="1518" y="727" width="3" height="1" fill="#000"/>
<rect x="1524" y="727" width="3" height="1" fill="#000"/>
<rect x="1530" y="727" width="3" height="1" fill="#000"/>
<rect x="1536" y="727" width="3" height="1" fill="#000"/>
<rect x="1542" y="727" width="3" height="1" fill="#000"/>
<rect x="1548" y="727" width="3" height="1" fill="#000"/>
<rect x="1554" y="727" width="3" height="1" fill="#000"/>
<rect x="1560" y="727" width="3" height="1" fill="#000"/>
<rect x="1566" y="727" width="3" height="1" fill="#000"/>
<rect x="1572" y="727" width="3" height="1" fill="#000"/>
<rect x="1578" y="727" width="3" height="1" fill="#000"/>
<rect x="1584" y="727" width="3" height="1" fill="#000"/>
<rect x="1590" y="727" width="3" height="1" fill="#000"/>
<rect x="1596" y="727" width="3" height="1" fill="#000"/>
<rect x="1602" y="727" width="3" height="1" fill="#000"/>
<rect x="1608" y="727" width="3" height="1" fill="#000"/>
<rect x="1614" y="727" width="3" height="1" fill="#000"/>
<rect x="1620" y="727" width="3" height="1" fill="#000"/>
<rect x="1626" y="727" width="3" height="1" fill="#000"/>
<rect x="1632" y="727" width="3" height="1" fill="#000"/>
<rect x="1638" y="727" width="3" height="1" fill="#000"/>
<rect x="6" y="759" width="3" height="1" fill="#000"/>
<rect x="12" y="759" width="3" height="1" fill="#000"/>
<rect x="18" y="759" width="3" height="1" fill="#000"/>
<rect x="24" y="759" width="3" height="1" fill="#000"/>
<rect x="30" y="759" width="3" height="1" fill="#000"/>
<rect x="36" y="759" width="3" height="1" fill="#000"/>
<rect x="42" y="759" width="3" height="1" fill="#000"/>
<rect x="48" y="759" width="3" height="1" fill="#000"/>
<rect x="54" y="759" width="3" height="1" fill="#000"/>
<rect x="60" y="759" width="3" height="1" fill="#000"/>
<rect x="66" y="759" width="3" height="1" fill="#000"/>
<rect x="72" y="759" width="3" height="1" fill="#000"/>
<rect x="78" y="759" width="3" height="1" fill="#000"/>
<rect x="84" y="759" width="3" height="1" fill="#000"/>
<rect x="90" y="759" width="3" height="1" fill="#000"/>
<rect x="96" y="759" width="3" height="1" fill="#000"/>
<rect x="102" y="759" width="3" height="1" fill="#000"/>
<rect x="108" y="759" width="3" height="1" fill="#000"/>
<rect x="114" y="759" width="3" height="1" fill="#000"/>
<rect x="120" y="759" width="3" height="1" fill="#000"/>
<rect x="126" y="759" width="3" height="1" fill="#000"/>
<rect x="132" y="759" width="3" height="1" fill="#000"/>
<rect x="138" y="759" width="3" height="1" fill="#000"/>
<rect x="144" y="759" width="3" height="1" fill="#000"/>
<rect x="150" y="759" width="3" height="1" fill="#000"/>
<rect x="156" y="759" width="3" height="1" fill="#000"/>
<rect x="162" y="759" width="3" height="1" fill="#000"/>
<rect x="168" y="759" width="3" height="1" fill="#000"/>
<rect x="174" y="759" width="3" height="1" fill="#000"/>
<rect x="180" y="759" width="3" height="1" fill="#000"/>
<rect x="186" y="759" width="3" height="1" fill="#000"/>
<rect x="192" y="759" width="3" height="1" fill="#000"/>
<rect x="198" y="759" width="3" height="1" fill="#000"/>
<rect x="204" y="759" width="3" height="1" fill="#000"/>
<rect x="210" y="759" width="3" height="1" fill="#000"/>
<rect x="216" y="759" width="3" height="1" fill="#000"/>
<rect x="222" y="759" width="3" height="1" fill="#000"/>
<rect x="228" y="759" width="3" height="1" fill="#000"/>
<rect x="234" y="759" width="3" height="1" fill="#000"/>
<rect x="240" y="759" width="3" height="1" fill="#000"/>
<rect x="246" y="759" width="3" height="1" fill="#000"/>
<rect x="252" y="759" width="3" height="1" fill="#000"/>
<rect x="258" y="759" width="3" height="1" fill="#000"/>
<rect x="264" y="759" width="3" height="1" fill="#000"/>
<rect x="270" y="759" width="3" height="1" fill="#000"/>
<rect x="276" y="759" width="3" height="1" fill="#000"/>
<rect x="282" y="759" width="3" height="1" fill="#000"/>
<rect x="288" y="759" width="3" height="1" fill="#000"/>
<rect x="294" y="759" width="3" height="1" fill="#000"/>
<rect x="300" y="759" width="3" height="1" fill="#000"/>
<rect x="306" y="759" width="3" height="1" fill="#000"/>
<rect x="312" y="759" width="3" height="1" fill="#000"/>
<rect x="318" y="759" width="3" height="1" fill="#000"/>
<rect x="324" y="759" width="3" height="1" fill="#000"/>
<rect x="330" y="759" width="3" height="1" fill="#000"/>
<rect x="336" y="759" width="3" height="1" fill="#000"/>
<rect x="342" y="759" width="3" height="1" fill="#000"/>
<rect x="348" y="759" width="3" height="1" fill="#000"/>
<rect x="354" y="759" width="3" height="1" fill="#000"/>
<rect x="360" y="759" width="3" height="1" fill="#000"/>
<rect x="366" y="759" width="3" height="1" fill="#000"/>
<rect x="372" y="759" width="3" height="1" fill="#000"/>
<rect x="378" y="759" width="3" height="1" fill="#000"/>
<rect x="384" y="759" width="3" height="1" fill="#000"/>
<rect x="390" y="759" width="3" height="1" fill="#000"/>
<rect x="396" y="759" width="3" height="1" fill="#000"/>
<rect x="402" y="759" width="3" height="1" fill="#000"/>
<rect x="408" y="759" width="3" height="1" fill="#000"/>
<rect x="414" y="759" width="3" height="1" fill="#000"/>
<rect x="420" y="759" width="3" height="1" fill="#000"/>
<rect x="426" y="759" width="3" height="1" fill="#000"/>
<rect x="432" y="759" width="3" height="1" fill="#000"/>
<rect x="438" y="759" width="3" height="1" fill="#000"/>
<rect x="444" y="759" width="3" height="1" fill="#000"/>
<rect x="450" y="759" width="3" height="1" fill="#000"/>
<rect x="456" y="759" width="3" height="1" fill="#000"/>
<rect x="462" y="759" width="3" height="1" fill="#000"/>
<rect x="468" y="759" width="3" height="1" fill="#000"/>
<rect x="474" y="759" width="3" height="1" fill="#000"/>
<rect x="480" y="759" width="3" height="1" fill="#000"/>
<rect x="486" y="759" width="3" height="1" fill="#000"/>
<rect x="492" y="759" width="3" height="1" fill="#000"/>
<rect x="498" y="759" width="3" height="1" fill="#000"/>
<rect x="504" y="759" width="3" height="1" fill="#000"/>
<rect x="510" y="759" width="3" height="1" fill="#000"/>
<rect x="516" y="759" width="3" height="1" fill="#000"/>
<rect x="522" y="759" width="3" height="1" fill="#000"/>
<rect x="528" y="759" width="3" height="1" fill="#000"/>
<rect x="534" y="759" width="3" height="1" fill="#000"/>
<rect x="540" y="759" width="3" height="1" fill="#000"/>
<rect x="546" y="759" width="3" height="1" fill="#000"/>
<rect x="552" y="759" width="3" height="1" fill="#000"/>
<rect x="558" y="759" width="3" height="1" fill="#000"/>
<rect x="564" y="759" width="3" height="1" fill="#000"/>
<rect x="570" y="759" width="3" height="1" fill="#000"/>
<rect x="576" y="759" width="3" height="1" fill="#000"/>
<rect x="582" y="759" width="3" height="1" fill="#000"/>
<rect x="588" y="759" width="3" height="1" fill="#000"/>
<rect x="594" y="759" width="3" height="1" fill="#000"/>
<rect x="600" y="759" width="3" height="1" fill="#000"/>
<rect x="606" y="759" width="3" height="1" fill="#000"/>
<rect x="612" y="759" width="3" height="1" fill="#000"/>
<rect x="618" y="759" width="3" height="1" fill="#000"/>
<rect x="624" y="759" width="3" height="1" fill="#000"/>
<rect x="630" y="759" width="3" height="1" fill="#000"/>
<rect x="636" y="759" width="3" height="1" fill="#000"/>
<rect x="642" y="759" width="3" height="1" fill="#000"/>
<rect x="648" y="759" width="3" height="1" fill="#000"/>
<rect x="654" y="759" width="3" height="1" fill="#000"/>
<rect x="660" y="759" width="3" height="1" fill="#000"/>
<rect x="666" y="759" width="3" height="1" fill="#000"/>
<rect x="672" y="759" width="3" height="1" fill="#000"/>
<rect x="678" y="759" width="3" height="1" fill="#000"/>
<rect x="684" y="759" width="3" height="1" fill="#000"/>
<rect x="690" y="759" width="3" height="1" fill="#000"/>
<rect x="696" y="759" width="3" height="1" fill="#000"/>
<rect x="702" y="759" width="3" height="1" fill="#000"/>
<rect x="708" y="759" width="3" height="1" fill="#000"/>
<rect x="714" y="759" width="3" height="1" fill="#000"/>
<rect x="720" y="759" width="3" height="1" fill="#000"/>
<rect x="726" y="759" width="3" height="1" fill="#000"/>
<rect x="732" y="759" width="3" height="1" fill="#000"/>
<rect x="738" y="759" width="3" height="1" fill="#000"/>
<rect x="744" y="759" width="3" height="1" fill="#000"/>
<rect x="750" y="759" width="3" height="1" fill="#000"/>
<rect x="756" y="759" width="3" height="1" fill="#000"/>
<rect x="762" y="759" width="3" height="1" fill="#000"/>
<rect x="768" y="759" width="3" height="1" fill="#000"/>
<rect x="774" y="759" width="3" height="1" fill="#000"/>
<rect x="780" y="759" width="3" height="1" fill="#000"/>
<rect x="786" y="759" width="3" height="1" fill="#000"/>
<rect x="792" y="759" width="3" height="1" fill="#000"/>
<rect x="798" y="759" width="3" height="1" fill="#000"/>
<rect x="804" y="759" width="3" height="1" fill="#000"/>
<rect x="810" y="759" width="3" height="1" fill="#000"/>
<rect x="816" y="759" width="3" height="1" fill="#000"/>
<rect x="822" y="759" width="3" height="1" fill="#000"/>
<rect x="828" y="759" width="3" height="1" fill="#000"/>
<rect x="834" y="759" width="3" height="1" fill="#000"/>
<rect x="840" y="759" width="3" height="1" fill="#000"/>
<rect x="846" y="759" width="3" height="1" fill="#000"/>
<rect x="852" y="759" width="3" height="1" fill="#000"/>
<rect x="858" y="759" width="3" height="1" fill="#000"/>
<rect x="864" y="759" width="3" height="1" fill="#000"/>
<rect x="870" y="759" width="3" height="1" fill="#000"/>
<rect x="876" y="759" width="3" height="1" fill="#000"/>
<rect x="882" y="759" width="3" height="1" fill="#000"/>
<rect x="888" y="759" width="3" height="1" fill="#000"/>
<rect x="894" y="759" width="3" height="1" fill="#000"/>
<rect x="900" y="759" width="3" height="1" fill="#000"/>
<rect x="906" y="759" width="3" height="1" fill="#000"/>
<rect x="912" y="759" width="3" height="1" fill="#000"/>
<rect x="918" y="759" width="3" height="1" fill="#000"/>
<rect x="924" y="759" width="3" height="1" fill="#000"/>
<rect x="930" y="759" width="3" height="1" fill="#000"/>
<rect x="936" y="759" width="3" height="1" fill="#000"/>
<rect x="942" y="759" width="3" height="1" fill="#000"/>
<rect x="948" y="759" width="3" height="1" fill="#000"/>
<rect x="954" y="759" width="3" height="1" fill="#000"/>
<rect x="960" y="759" width="3" height="1" fill="#000"/>
<rect x="966" y="759" width="3" height="1" fill="#000"/>
<rect x="972" y="759" width="3" height="1" fill="#000"/>
<rect x="978" y="759" width="3" height="1" fill="#000"/>
<rect x="984" y="759" width="3" height="1" fill="#000"/>
<rect x="990" y="759" width="3" height="1" fill="#000"/>
<rect x="996" y="759" width="3" height="1" fill="#000"/>
<rect x="1002" y="759" width="3" height="1" fill="#000"/>
<rect x="1008" y="759" width="3" height="1" fill="#000"/>
<rect x="1014" y="759" width="3" height="1" fill="#000"/>
<rect x="1020" y="759" width="3" height="1" fill="#000"/>
<rect x="1026" y="759" width="3" height="1" fill="#000"/>
<rect x="1032" y="759" width="3" height="1" fill="#000"/>
<rect x="1038" y="759" width="3" height="1" fill="#000"/>
<rect x="1044" y="759" width="3" height="1" fill="#000"/>
<rect x="1050" y="759" width="3" height="1" fill="#000"/>
<rect x="1056" y="759" width="3" height="1" fill="#000"/>
<rect x="1062" y="759" width="3" height="1" fill="#000"/>
<rect x="1068" y="759" width="3" height="1" fill="#000"/>
<rect x="1074" y="759" width="3" height="1" fill="#000"/>
<rect x="1080" y="759" width="3" height="1" fill="#000"/>
<rect x="1086" y="759" width="3" height="1" fill="#000"/>
<rect x="1092" y="759" width="3" height="1" fill="#000"/>
<rect x="1098" y="759" width="3" height="1" fill="#000"/>
<rect x="1104" y="759" width="3" height="1" fill="#000"/>
<rect x="1110" y="759" width="3" height="1" fill="#000"/>
<rect x="1116" y="759" width="3" height="1" fill="#000"/>
<rect x="1122" y="759" width="3" height="1" fill="#000"/>
<rect x="1128" y="759" width="3" height="1" fill="#000"/>
<rect x="1134" y="759" width="3" height="1" fill="#000"/>
<rect x="1140" y="759" width="3" height="1" fill="#000"/>
<rect x="1146" y="759" width="3" height="1" fill="#000"/>
<rect x="1152" y="759" width="3" height="1" fill="#000"/>
<rect x="1158" y="759" width="3" height="1" fill="#000"/>
<rect x="1164" y="759" width="3" height="1" fill="#000"/>
<rect x="1170" y="759" width="3" height="1" fill="#000"/>
<rect x="1176" y="759" width="3" height="1" fill="#000"/>
<rect x="1182" y="759" width="3" height="1" fill="#000"/>
<rect x="1188" y="759" width="3" height="1" fill="#000"/>
<rect x="1194" y="759" width="3" height="1" fill="#000"/>
<rect x="1200" y="759" width="3" height="1" fill="#000"/>
<rect x="1206" y="759" width="3" height="1" fill="#000"/>
<rect x="1212" y="759" width="3" height="1" fill="#000"/>
<rect x="1218" y="759" width="3" height="1" fill="#000"/>
<rect x="1224" y="759" width="3" height="1" fill="#000"/>
<rect x="1230" y="759" width="3" height="1" fill="#000"/>
<rect x="1236" y="759" width="3" height="1" fill="#000"/>
<rect x="1242" y="759" width="3" height="1" fill="#000"/>
<rect x="1248" y="759" width="3" height="1" fill="#000"/>
<rect x="1254" y="759" width="3" height="1" fill="#000"/>
<rect x="1260" y="759" width="3" height="1" fill="#000"/>
<rect x="1266" y="759" width="3" height="1" fill="#000"/>
<rect x="1272" y="759" width="3" height="1" fill="#000"/>
<rect x="1278" y="759" width="3" height="1" fill="#000"/>
<rect x="1284" y="759" width="3" height="1" fill="#000"/>
<rect x="1290" y="759" width="3" height="1" fill="#000"/>
<rect x="1296" y="759" width="3" height="1" fill="#000"/>
<rect x="1302" y="759" width="3" height="1" fill="#000"/>
<rect x="1308" y="759" width="3" height="1" fill="#000"/>
<rect x="1314" y="759" width="3" height="1" fill="#000"/>
<rect x="1320" y="759" width="3" height="1" fill="#000"/>
<rect x="1326" y="759" width="3" height="1" fill="#000"/>
<rect x="1332" y="759" width="3" height="1" fill="#000"/>
<rect x="1338" y="759" width="3" height="1" fill="#000"/>
<rect x="1344" y="759" width="3" height="1" fill="#000"/>
<rect x="1350" y="759" width="3" height="1" fill="#000"/>
<rect x="1356" y="759" width="3" height="1" fill="#000"/>
<rect x="1362" y="759" width="3" height="1" fill="#000"/>
<rect x="1368" y="759" width="3" height="1" fill="#000"/>
<rect x="1374" y="759" width="3" height="1" fill="#000"/>
<rect x="1380" y="759" width="3" height="1" fill="#000"/>
<rect x="1386" y="759" width="3" height="1" fill="#000"/>
<rect x="1392" y="759" width="3" height="1" fill="#000"/>
<rect x="1398" y="759" width="3" height="1" fill="#000"/>
<rect x="1404" y="759" width="3" height="1" fill="#000"/>
<rect x="1410" y="759" width="3" height="1" fill="#000"/>
<rect x="1416" y="759" width="3" height="1" fill="#000"/>
<rect x="1422" y="759" width="3" height="1" fill="#000"/>
<rect x="1428" y="759" width="3" height="1" fill="#000"/>
<rect x="1434" y="759" width="3" height="1" fill="#000"/>
<rect x="1440" y="759" width="3" height="1" fill="#000"/>
<rect x="1446" y="759" width="3" height="1" fill="#000"/>
<rect x="1452" y="759" width="3" height="1" fill="#000"/>
<rect x="1458" y="759" width="3" height="1" fill="#000"/>
<rect x="1464" y="759" width="3" height="1" fill="#000"/>
<rect x="1470" y="759" width="3" height="1" fill="#000"/>
<rect x="1476" y="759" width="3" height="1" fill="#000"/>
<rect x="1482" y="759" width="3" height="1" fill="#000"/>
<rect x="1488" y="759" width="3" height="1" fill="#000"/>
<rect x="1494" y="759" width="3" height="1" fill="#000"/>
<rect x="1500" y="759" width="3" height="1" fill="#000"/>
<rect x="1506" y="759" width="3" height="1" fill="#000"/>
<rect x="1512" y="759" width="3" height="1" fill="#000"/>
<rect x="1518" y="759" width="3" height="1" fill="#000"/>
<rect x="1524" y="759" width="3" height="1" fill="#000"/>
<rect x="1530" y="759" width="3" height="1" fill="#000"/>
<rect x="1536" y="759" width="3" height="1" fill="#000"/>
<rect x="1542" y="759" width="3" height="1" fill="#000"/>
<rect x="1548" y="759" width="3" height="1" fill="#000"/>
<rect x="1554" y="759" width="3" height="1" fill="#000"/>
<rect x="1560" y="759" width="3" height="1" fill="#000"/>
<rect x="1566" y="759" width="3" height="1" fill="#000"/>
<rect x="1572" y="759" width="3" height="1" fill="#000"/>
<rect x="1578" y="759" width="3" height="1" fill="#000"/>
<rect x="1584" y="759" width="3" height="1" fill="#000"/>
<rect x="1590" y="759" width="3" height="1" fill="#000"/>
<rect x="1596" y="759" width="3" height="1" fill="#000"/>
<rect x="1602" y="759" width="3" height="1" fill="#000"/>
<rect x="1608" y="759" width="3" height="1" fill="#000"/>
<rect x="1614" y="759" width="3" height="1" fill="#000"/>
<rect x="1620" y="759" width="3" height="1" fill="#000"/>
<rect x="1626" y="759" width="3" height="1" fill="#000"/>
<rect x="1632" y="759" width="3" height="1" fill="#000"/>
<rect x="1638" y="759" width="3" height="1" fill="#000"/>
<rect x="6" y="797" width="3" height="1" fill="#000"/>
<rect x="12" y="797" width="3" height="1" fill="#000"/>
<rect x="18" y="797" width="3" height="1" fill="#000"/>
<rect x="24" y="797" width="3" height="1" fill="#000"/>
<rect x="30" y="797" width="3" height="1" fill="#000"/>
<rect x="36" y="797" width="3" height="1" fill="#000"/>
<rect x="42" y="797" width="3" height="1" fill="#000"/>
<rect x="48" y="797" width="3" height="1" fill="#000"/>
<rect x="54" y="797" width="3" height="1" fill="#000"/>
<rect x="60" y="797" width="3" height="1" fill="#000"/>
<rect x="66" y="797" width="3" height="1" fill="#000"/>
<rect x="72" y="797" width="3" height="1" fill="#000"/>
<rect x="78" y="797" width="3" height="1" fill="#000"/>
<rect x="84" y="797" width="3" height="1" fill="#000"/>
<rect x="90" y="797" width="3" height="1" fill="#000"/>
<rect x="96" y="797" width="3" height="1" fill="#000"/>
<rect x="102" y="797" width="3" height="1" fill="#000"/>
<rect x="108" y="797" width="3" height="1" fill="#000"/>
<rect x="114" y="797" width="3" height="1" fill="#000"/>
<rect x="120" y="797" width="3" height="1" fill="#000"/>
<rect x="126" y="797" width="3" height="1" fill="#000"/>
<rect x="132" y="797" width="3" height="1" fill="#000"/>
<rect x="138" y="797" width="3" height="1" fill="#000"/>
<rect x="144" y="797" width="3" height="1" fill="#000"/>
<rect x="150" y="797" width="3" height="1" fill="#000"/>
<rect x="156" y="797" width="3" height="1" fill="#000"/>
<rect x="162" y="797" width="3" height="1" fill="#000"/>
<rect x="168" y="797" width="3" height="1" fill="#000"/>
<rect x="174" y="797" width="3" height="1" fill="#000"/>
<rect x="180" y="797" width="3" height="1" fill="#000"/>
<rect x="186" y="797" width="3" height="1" fill="#000"/>
<rect x="192" y="797" width="3" height="1" fill="#000"/>
<rect x="198" y="797" width="3" height="1" fill="#000"/>
<rect x="204" y="797" width="3" height="1" fill="#000"/>
<rect x="210" y="797" width="3" height="1" fill="#000"/>
<rect x="216" y="797" width="3" height="1" fill="#000"/>
<rect x="222" y="797" width="3" height="1" fill="#000"/>
<rect x="228" y="797" width="3" height="1" fill="#000"/>
<rect x="234" y="797" width="3" height="1" fill="#000"/>
<rect x="240" y="797" width="3" height="1" fill="#000"/>
<rect x="246" y="797" width="3" height="1" fill="#000"/>
<rect x="252" y="797" width="3" height="1" fill="#000"/>
<rect x="258" y="797" width="3" height="1" fill="#000"/>
<rect x="264" y="797" width="3" height="1" fill="#000"/>
<rect x="270" y="797" width="3" height="1" fill="#000"/>
<rect x="276" y="797" width="3" height="1" fill="#000"/>
<rect x="282" y="797" width="3" height="1" fill="#000"/>
<rect x="288" y="797" width="3" height="1" fill="#000"/>
<rect x="294" y="797" width="3" height="1" fill="#000"/>
<rect x="300" y="797" width="3" height="1" fill="#000"/>
<rect x="306" y="797" width="3" height="1" fill="#000"/>
<rect x="312" y="797" width="3" height="1" fill="#000"/>
<rect x="318" y="797" width="3" height="1" fill="#000"/>
<rect x="324" y="797" width="3" height="1" fill="#000"/>
<rect x="330" y="797" width="3" height="1" fill="#000"/>
<rect x="336" y="797" width="3" height="1" fill="#000"/>
<rect x="342" y="797" width="3" height="1" fill="#000"/>
<rect x="348" y="797" width="3" height="1" fill="#000"/>
<rect x="354" y="797" width="3" height="1" fill="#000"/>
<rect x="360" y="797" width="3" height="1" fill="#000"/>
<rect x="366" y="797" width="3" height="1" fill="#000"/>
<rect x="372" y="797" width="3" height="1" fill="#000"/>
<rect x="378" y="797" width="3" height="1" fill="#000"/>
<rect x="384" y="797" width="3" height="1" fill="#000"/>
<rect x="390" y="797" width="3" height="1" fill="#000"/>
<rect x="396" y="797" width="3" height="1" fill="#000"/>
<rect x="402" y="797" width="3" height="1" fill="#000"/>
<rect x="408" y="797" width="3" height="1" fill="#000"/>
<rect x="414" y="797" width="3" height="1" fill="#000"/>
<rect x="420" y="797" width="3" height="1" fill="#000"/>
<rect x="426" y="797" width="3" height="1" fill="#000"/>
<rect x="432" y="797" width="3" height="1" fill="#000"/>
<rect x="438" y="797" width="3" height="1" fill="#000"/>
<rect x="444" y="797" width="3" height="1" fill="#000"/>
<rect x="450" y="797" width="3" height="1" fill="#000"/>
<rect x="456" y="797" width="3" height="1" fill="#000"/>
<rect x="462" y="797" width="3" height="1" fill="#000"/>
<rect x="468" y="797" width="3" height="1" fill="#000"/>
<rect x="474" y="797" width="3" height="1" fill="#000"/>
<rect x="480" y="797" width="3" height="1" fill="#000"/>
<rect x="486" y="797" width="3" height="1" fill="#000"/>
<rect x="492" y="797" width="3" height="1" fill="#000"/>
<rect x="498" y="797" width="3" height="1" fill="#000"/>
<rect x="504" y="797" width="3" height="1" fill="#000"/>
<rect x="510" y="797" width="3" height="1" fill="#000"/>
<rect x="516" y="797" width="3" height="1" fill="#000"/>
<rect x="522" y="797" width="3" height="1" fill="#000"/>
<rect x="528" y="797" width="3" height="1" fill="#000"/>
<rect x="534" y="797" width="3" height="1" fill="#000"/>
<rect x="540" y="797" width="3" height="1" fill="#000"/>
<rect x="546" y="797" width="3" height="1" fill="#000"/>
<rect x="552" y="797" width="3" height="1" fill="#000"/>
<rect x="558" y="797" width="3" height="1" fill="#000"/>
<rect x="564" y="797" width="3" height="1" fill="#000"/>
<rect x="570" y="797" width="3" height="1" fill="#000"/>
<rect x="576" y="797" width="3" height="1" fill="#000"/>
<rect x="582" y="797" width="3" height="1" fill="#000"/>
<rect x="588" y="797" width="3" height="1" fill="#000"/>
<rect x="594" y="797" width="3" height="1" fill="#000"/>
<rect x="600" y="797" width="3" height="1" fill="#000"/>
<rect x="606" y="797" width="3" height="1" fill="#000"/>
<rect x="612" y="797" width="3" height="1" fill="#000"/>
<rect x="618" y="797" width="3" height="1" fill="#000"/>
<rect x="624" y="797" width="3" height="1" fill="#000"/>
<rect x="630" y="797" width="3" height="1" fill="#000"/>
<rect x="636" y="797" width="3" height="1" fill="#000"/>
<rect x="642" y="797" width="3" height="1" fill="#000"/>
<rect x="648" y="797" width="3" height="1" fill="#000"/>
<rect x="654" y="797" width="3" height="1" fill="#000"/>
<rect x="660" y="797" width="3" height="1" fill="#000"/>
<rect x="666" y="797" width="3" height="1" fill="#000"/>
<rect x="672" y="797" width="3" height="1" fill="#000"/>
<rect x="678" y="797" width="3" height="1" fill="#000"/>
<rect x="684" y="797" width="3" height="1" fill="#000"/>
<rect x="690" y="797" width="3" height="1" fill="#000"/>
<rect x="696" y="797" width="3" height="1" fill="#000"/>
<rect x="702" y="797" width="3" height="1" fill="#000"/>
<rect x="708" y="797" width="3" height="1" fill="#000"/>
<rect x="714" y="797" width="3" height="1" fill="#000"/>
<rect x="720" y="797" width="3" height="1" fill="#000"/>
<rect x="726" y="797" width="3" height="1" fill="#000"/>
<rect x="732" y="797" width="3" height="1" fill="#000"/>
<rect x="738" y="797" width="3" height="1" fill="#000"/>
<rect x="744" y="797" width="3" height="1" fill="#000"/>
<rect x="750" y="797" width="3" height="1" fill="#000"/>
<rect x="756" y="797" width="3" height="1" fill="#000"/>
<rect x="762" y="797" width="3" height="1" fill="#000"/>
<rect x="768" y="797" width="3" height="1" fill="#000"/>
<rect x="774" y="797" width="3" height="1" fill="#000"/>
<rect x="780" y="797" width="3" height="1" fill="#000"/>
<rect x="786" y="797" width="3" height="1" fill="#000"/>
<rect x="792" y="797" width="3" height="1" fill="#000"/>
<rect x="798" y="797" width="3" height="1" fill="#000"/>
<rect x="804" y="797" width="3" height="1" fill="#000"/>
<rect x="810" y="797" width="3" height="1" fill="#000"/>
<rect x="816" y="797" width="3" height="1" fill="#000"/>
<rect x="822" y="797" width="3" height="1" fill="#000"/>
<rect x="828" y="797" width="3" height="1" fill="#000"/>
<rect x="834" y="797" width="3" height="1" fill="#000"/>
<rect x="840" y="797" width="3" height="1" fill="#000"/>
<rect x="846" y="797" width="3" height="1" fill="#000"/>
<rect x="852" y="797" width="3" height="1" fill="#000"/>
<rect x="858" y="797" width="3" height="1" fill="#000"/>
<rect x="864" y="797" width="3" height="1" fill="#000"/>
<rect x="870" y="797" width="3" height="1" fill="#000"/>
<rect x="876" y="797" width="3" height="1" fill="#000"/>
<rect x="882" y="797" width="3" height="1" fill="#000"/>
<rect x="888" y="797" width="3" height="1" fill="#000"/>
<rect x="894" y="797" width="3" height="1" fill="#000"/>
<rect x="900" y="797" width="3" height="1" fill="#000"/>
<rect x="906" y="797" width="3" height="1" fill="#000"/>
<rect x="912" y="797" width="3" height="1" fill="#000"/>
<rect x="918" y="797" width="3" height="1" fill="#000"/>
<rect x="924" y="797" width="3" height="1" fill="#000"/>
<rect x="930" y="797" width="3" height="1" fill="#000"/>
<rect x="936" y="797" width="3" height="1" fill="#000"/>
<rect x="942" y="797" width="3" height="1" fill="#000"/>
<rect x="948" y="797" width="3" height="1" fill="#000"/>
<rect x="954" y="797" width="3" height="1" fill="#000"/>
<rect x="960" y="797" width="3" height="1" fill="#000"/>
<rect x="966" y="797" width="3" height="1" fill="#000"/>
<rect x="972" y="797" width="3" height="1" fill="#000"/>
<rect x="978" y="797" width="3" height="1" fill="#000"/>
<rect x="984" y="797" width="3" height="1" fill="#000"/>
<rect x="990" y="797" width="3" height="1" fill="#000"/>
<rect x="996" y="797" width="3" height="1" fill="#000"/>
<rect x="1002" y="797" width="3" height="1" fill="#000"/>
<rect x="1008" y="797" width="3" height="1" fill="#000"/>
<rect x="1014" y="797" width="3" height="1" fill="#000"/>
<rect x="1020" y="797" width="3" height="1" fill="#000"/>
<rect x="1026" y="797" width="3" height="1" fill="#000"/>
<rect x="1032" y="797" width="3" height="1" fill="#000"/>
<rect x="1038" y="797" width="3" height="1" fill="#000"/>
<rect x="1044" y="797" width="3" height="1" fill="#000"/>
<rect x="1050" y="797" width="3" height="1" fill="#000"/>
<rect x="1056" y="797" width="3" height="1" fill="#000"/>
<rect x="1062" y="797" width="3" height="1" fill="#000"/>
<rect x="1068" y="797" width="3" height="1" fill="#000"/>
<rect x="1074" y="797" width="3" height="1" fill="#000"/>
<rect x="1080" y="797" width="3" height="1" fill="#000"/>
<rect x="1086" y="797" width="3" height="1" fill="#000"/>
<rect x="1092" y="797" width="3" height="1" fill="#000"/>
<rect x="1098" y="797" width="3" height="1" fill="#000"/>
<rect x="1104" y="797" width="3" height="1" fill="#000"/>
<rect x="1110" y="797" width="3" height="1" fill="#000"/>
<rect x="1116" y="797" width="3" height="1" fill="#000"/>
<rect x="1122" y="797" width="3" height="1" fill="#000"/>
<rect x="1128" y="797" width="3" height="1" fill="#000"/>
<rect x="1134" y="797" width="3" height="1" fill="#000"/>
<rect x="1140" y="797" width="3" height="1" fill="#000"/>
<rect x="1146" y="797" width="3" height="1" fill="#000"/>
<rect x="1152" y="797" width="3" height="1" fill="#000"/>
<rect x="1158" y="797" width="3" height="1" fill="#000"/>
<rect x="1164" y="797" width="3" height="1" fill="#000"/>
<rect x="1170" y="797" width="3" height="1" fill="#000"/>
<rect x="1176" y="797" width="3" height="1" fill="#000"/>
<rect x="1182" y="797" width="3" height="1" fill="#000"/>
<rect x="1188" y="797" width="3" height="1" fill="#000"/>
<rect x="1194" y="797" width="3" height="1" fill="#000"/>
<rect x="1200" y="797" width="3" height="1" fill="#000"/>
<rect x="1206" y="797" width="3" height="1" fill="#000"/>
<rect x="1212" y="797" width="3" height="1" fill="#000"/>
<rect x="1218" y="797" width="3" height="1" fill="#000"/>
<rect x="1224" y="797" width="3" height="1" fill="#000"/>
<rect x="1230" y="797" width="3" height="1" fill="#000"/>
<rect x="1236" y="797" width="3" height="1" fill="#000"/>
<rect x="1242" y="797" width="3" height="1" fill="#000"/>
<rect x="1248" y="797" width="3" height="1" fill="#000"/>
<rect x="1254" y="797" width="3" height="1" fill="#000"/>
<rect x="1260" y="797" width="3" height="1" fill="#000"/>
<rect x="1266" y="797" width="3" height="1" fill="#000"/>
<rect x="1272" y="797" width="3" height="1" fill="#000"/>
<rect x="1278" y="797" width="3" height="1" fill="#000"/>
<rect x="1284" y="797" width="3" height="1" fill="#000"/>
<rect x="1290" y="797" width="3" height="1" fill="#000"/>
<rect x="1296" y="797" width="3" height="1" fill="#000"/>
<rect x="1302" y="797" width="3" height="1" fill="#000"/>
<rect x="1308" y="797" width="3" height="1" fill="#000"/>
<rect x="1314" y="797" width="3" height="1" fill="#000"/>
<rect x="1320" y="797" width="3" height="1" fill="#000"/>
<rect x="1326" y="797" width="3" height="1" fill="#000"/>
<rect x="1332" y="797" width="3" height="1" fill="#000"/>
<rect x="1338" y="797" width="3" height="1" fill="#000"/>
<rect x="1344" y="797" width="3" height="1" fill="#000"/>
<rect x="1350" y="797" width="3" height="1" fill="#000"/>
<rect x="1356" y="797" width="3" height="1" fill="#000"/>
<rect x="1362" y="797" width="3" height="1" fill="#000"/>
<rect x="1368" y="797" width="3" height="1" fill="#000"/>
<rect x="1374" y="797" width="3" height="1" fill="#000"/>
<rect x="1380" y="797" width="3" height="1" fill="#000"/>
<rect x="1386" y="797" width="3" height="1" fill="#000"/>
<rect x="1392" y="797" width="3" height="1" fill="#000"/>
<rect x="1398" y="797" width="3" height="1" fill="#000"/>
<rect x="1404" y="797" width="3" height="1" fill="#000"/>
<rect x="1410" y="797" width="3" height="1" fill="#000"/>
<rect x="1416" y="797" width="3" height="1" fill="#000"/>
<rect x="1422" y="797" width="3" height="1" fill="#000"/>
<rect x="1428" y="797" width="3" height="1" fill="#000"/>
<rect x="1434" y="797" width="3" height="1" fill="#000"/>
<rect x="1440" y="797" width="3" height="1" fill="#000"/>
<rect x="1446" y="797" width="3" height="1" fill="#000"/>
<rect x="1452" y="797" width="3" height="1" fill="#000"/>
<rect x="1458" y="797" width="3" height="1" fill="#000"/>
<rect x="1464" y="797" width="3" height="1" fill="#000"/>
<rect x="1470" y="797" width="3" height="1" fill="#000"/>
<rect x="1476" y="797" width="3" height="1" fill="#000"/>
<rect x="1482" y="797" width="3" height="1" fill="#000"/>
<rect x="1488" y="797" width="3" height="1" fill="#000"/>
<rect x="1494" y="797" width="3" height="1" fill="#000"/>
<rect x="1500" y="797" width="3" height="1" fill="#000"/>
<rect x="1506" y="797" width="3" height="1" fill="#000"/>
<rect x="1512" y="797" width="3" height="1" fill="#000"/>
<rect x="1518" y="797" width="3" height="1" fill="#000"/>
<rect x="1524" y="797" width="3" height="1" fill="#000"/>
<rect x="1530" y="797" width="3" height="1" fill="#000"/>
<rect x="1536" y="797" width="3" height="1" fill="#000"/>
<rect x="1542" y="797" width="3" height="1" fill="#000"/>
<rect x="1548" y="797" width="3" height="1" fill="#000"/>
<rect x="1554" y="797" width="3" height="1" fill="#000"/>
<rect x="1560" y="797" width="3" height="1" fill="#000"/>
<rect x="1566" y="797" width="3" height="1" fill="#000"/>
<rect x="1572" y="797" width="3" height="1" fill="#000"/>
<rect x="1578" y="797" width="3" height="1" fill="#000"/>
<rect x="1584" y="797" width="3" height="1" fill="#000"/>
<rect x="1590" y="797" width="3" height="1" fill="#000"/>
<rect x="1596" y="797" width="3" height="1" fill="#000"/>
<rect x="1602" y="797" width="3" height="1" fill="#000"/>
<rect x="1608" y="797" width="3" height="1" fill="#000"/>
<rect x="1614" y="797" width="3" height="1" fill="#000"/>
<rect x="1620" y="797" width="3" height="1" fill="#000"/>
<rect x="1626" y="797" width="3" height="1" fill="#000"/>
<rect x="1632" y="797" width="3" height="1" fill="#000"/>
<rect x="1638" y="797" width="3" height="1" fill="#000"/>
<rect x="1645" y="58" width="2" height="1" fill="#000"/>
<rect x="1645" y="91" width="2" height="1" fill="#000"/>
<rect x="1645" y="124" width="2" height="1" fill="#000"/>
<rect x="1645" y="157" width="2" height="1" fill="#000"/>
<rect x="1645" y="190" width="2" height="1" fill="#000"/>
<rect x="1645" y="223" width="2" height="1" fill="#000"/>
<rect x="1645" y="256" width="2" height="1" fill="#000"/>
<rect x="1645" y="289" width="2" height="1" fill="#000"/>
<rect x="1645" y="322" width="2" height="1" fill="#000"/>
<rect x="1645" y="355" width="2" height="1" fill="#000"/>
<rect x="1645" y="388" width="2" height="1" fill="#000"/>
<rect x="1645" y="421" width="2" height="1" fill="#000"/>
<rect x="1645" y="454" width="2" height="1" fill="#000"/>
<rect x="1645" y="487" width="2" height="1" fill="#000"/>
<rect x="1645" y="520" width="2" height="1" fill="#000"/>
<rect x="1645" y="553" width="2" height="1" fill="#000"/>
<rect x="1645" y="586" width="2" height="1" fill="#000"/>
<rect x="1645" y="593" width="1" height="1" fill="#000"/>
<rect x="1645" y="616" width="1" height="1" fill="#000"/>
<rect x="1645" y="701" width="1" height="1" fill="#000"/>
<rect x="1645" y="706" width="1" height="1" fill="#000"/>
<rect x="1645" y="813" width="1" height="1" fill="#000"/>
<rect x="5" y="815" width="1" height="3" fill="#000"/>
<rect x="69" y="815" width="1" height="3" fill="#000"/>
<rect x="133" y="815" width="1" height="3" fill="#000"/>
<rect x="197" y="815" width="1" height="3" fill="#000"/>
<rect x="261" y="815" width="1" height="3" fill="#000"/>
<rect x="325" y="815" width="1" height="3" fill="#000"/>
<rect x="389" y="815" width="1" height="3" fill="#000"/>
<rect x="453" y="815" width="1" height="3" fill="#000"/>
<rect x="517" y="815" width="1" height="3" fill="#000"/>
<rect x="581" y="815" width="1" height="3" fill="#000"/>
<rect x="645" y="815" width="1" height="3" fill="#000"/>
<rect x="709" y="815" width="1" height="3" fill="#000"/>
<rect x="773" y="815" width="1" height="3" fill="#000"/>
<rect x="837" y="815" width="1" height="3" fill="#000"/>
<rect x="901" y="815" width="1" height="3" fill="#000"/>
<rect x="965" y="815" width="1" height="3" fill="#000"/>
<rect x="1029" y="815" width="1" height="3" fill="#000"/>
<rect x="1093" y="815" width="1" height="3" fill="#000"/>
<rect x="1157" y="815" width="1" height="3" fill="#000"/>
<rect x="1221" y="815" width="1" height="3" fill="#000"/>
<rect x="1285" y="815" width="1" height="3" fill="#000"/>
<rect x="1349" y="815" width="1" height="3" fill="#000"/>
<rect x="1413" y="815" width="1" height="3" fill="#000"/>
</g>
<polyline points="5,681 21,683 37,685.5 62.5,688.75 106,688.75 125,685 200,670.5 230,668 292.5,668 325,670 360,673.5 400,680.5 421,682 469,682 500,676 532.5,667 575,655.5 600,651 630,648.5 660,648.5 710,650 742.5,653.5 775,655 800,658 837.5,662.25 870,666.75 932.5,666.75 975,662.5 1030,658 1077.5,657.5 1125,654 1160,649.5 1190,649 1220,649 1270,652.75 1306,652.75 1337.5,645.5 1375,629.25 1397.5,620.5 1413.5,616.75" fill="none" stroke="#ff0000" stroke-width="2" stroke-linejoin="round" shape-rendering="crispEdges"/>
<polyline points="5.5,783.75 21.5,777 37.5,776.75 53.5,776.75 69.5,776.75 85.5,776.75 101.5,772.5 117.5,769 133.5,768.5 149.5,776.5 165.5,776.75 181.5,776.75 197.5,775.75 213.5,785.5 229.5,785.75 245.5,783.5 261.5,778 277.5,778 293.5,778 309.5,783.5 325.5,783.75 341.5,790.75 357.5,790.75 373.5,790.75 389.5,791.75 405.5,786.75 421.5,770 437.5,766 453.5,768.75 469.5,764.25 485.5,764.25 501.5,767.75 517.5,763 533.5,767.75 549.5,765.25 565.5,765.25 581.5,766.25 597.5,767.75 613.5,776.75 629.5,777.25 645.5,778 661.5,777.75 677.5,772.5 693.5,770 709.5,770 725.5,778.75 741.5,780 757.5,778.25 773.5,781.5 789.5,785 805.5,780 821.5,781.25 837.5,781.75 853.5,780.5 869.5,772 885.5,771.75 901.5,765.75 917.5,776.75 933.5,771 949.5,771.75 965.5,768.5 981.5,768.75 997.5,773.75 1013.5,772.75 1029.5,773.5 1045.5,773.75 1061.5,774 1077.5,779 1093.5,757.75 1109.5,763.75 1125.5,761.25 1141.5,760.5 1157.5,770.75 1173.5,774.75 1189.5,773.75 1205.5,778 1221.5,767 1237.5,765.75 1253.5,767 1269.5,771 1285.5,759.5 1301.5,751 1317.5,749 1333.5,748.75 1349.5,748.75 1365.5,750.25 1381.5,750.75 1397.5,761.25 1413.5,762.75" fill="none" stroke="#1e90ff" stroke-width="2" stroke-linejoin="round" shape-rendering="crispEdges"/>
<g fill="#4e9a2f" stroke="none">
<line x1="1437" y1="320" x2="1488" y2="384" stroke="#4e9a2f" stroke-width="3.2"/>
<polygon points="1496.2,394 1478.4,386.2 1492.4,375.4"/>
</g>
<g style="font-family:'Liberation Sans',sans-serif" stroke-width="0.22" text-rendering="geometricPrecision">
<text transform="translate(1650.5,61.3) scale(0.885,1)" fill="#000" stroke="#000" font-size="10.2" text-anchor="start" textLength="36.95">1.09015</text>
<text transform="translate(1650.5,94.3) scale(0.885,1)" fill="#000" stroke="#000" font-size="10.2" text-anchor="start" textLength="36.95">1.08845</text>
<text transform="translate(1650.5,127.3) scale(0.885,1)" fill="#000" stroke="#000" font-size="10.2" text-anchor="start" textLength="36.95">1.08675</text>
<text transform="translate(1650.5,160.3) scale(0.885,1)" fill="#000" stroke="#000" font-size="10.2" text-anchor="start" textLength="36.95">1.08505</text>
<text transform="translate(1650.5,193.3) scale(0.885,1)" fill="#000" stroke="#000" font-size="10.2" text-anchor="start" textLength="36.95">1.08335</text>
<text transform="translate(1650.5,226.3) scale(0.885,1)" fill="#000" stroke="#000" font-size="10.2" text-anchor="start" textLength="36.95">1.08160</text>
<text transform="translate(1650.5,259.3) scale(0.885,1)" fill="#000" stroke="#000" font-size="10.2" text-anchor="start" textLength="36.95">1.07990</text>
<text transform="translate(1650.5,292.3) scale(0.885,1)" fill="#000" stroke="#000" font-size="10.2" text-anchor="start" textLength="36.95">1.07820</text>
<text transform="translate(1650.5,325.3) scale(0.885,1)" fill="#000" stroke="#000" font-size="10.2" text-anchor="start" textLength="36.95">1.07650</text>
<text transform="translate(1650.5,358.3) scale(0.885,1)" fill="#000" stroke="#000" font-size="10.2" text-anchor="start" textLength="36.95">1.07480</text>
<text transform="translate(1650.5,391.3) scale(0.885,1)" fill="#000" stroke="#000" font-size="10.2" text-anchor="start" textLength="36.95">1.07310</text>
<text transform="translate(1650.5,425) scale(0.885,1)" fill="#000" stroke="#000" font-size="10.2" text-anchor="start" textLength="36.95">1.07140</text>
<text transform="translate(1650.5,458) scale(0.885,1)" fill="#000" stroke="#000" font-size="10.2" text-anchor="start" textLength="36.95">1.06965</text>
<text transform="translate(1650.5,491) scale(0.885,1)" fill="#000" stroke="#000" font-size="10.2" text-anchor="start" textLength="36.95">1.06795</text>
<text transform="translate(1650.5,523.3) scale(0.885,1)" fill="#000" stroke="#000" font-size="10.2" text-anchor="start" textLength="36.95">1.06625</text>
<text transform="translate(1650.5,556.3) scale(0.885,1)" fill="#000" stroke="#000" font-size="10.2" text-anchor="start" textLength="36.95">1.06455</text>
<text transform="translate(1650.5,589.3) scale(0.885,1)" fill="#000" stroke="#000" font-size="10.2" text-anchor="start" textLength="36.95">1.06285</text>
</g>
<g shape-rendering="crispEdges">
<rect x="1646" y="336" width="41" height="11" fill="#ff0000"/>
<rect x="1646" y="370" width="41" height="11" fill="#ff0000"/>
<rect x="1646" y="402" width="41" height="11" fill="#ffa500"/>
<rect x="1646" y="449" width="41" height="11" fill="#0000ff"/>
<rect x="1646" y="479" width="41" height="11" fill="#0000ff"/>
<rect x="1646" y="419" width="41" height="11" fill="#000"/>
</g>
<g style="font-family:'Liberation Sans',sans-serif" stroke-width="0.22" text-rendering="geometricPrecision">
<text transform="translate(1650.5,345) scale(0.885,1)" fill="#fff" stroke="#fff" font-size="10.2" text-anchor="start">1.07547</text>
<text transform="translate(1650.5,379) scale(0.885,1)" fill="#fff" stroke="#fff" font-size="10.2" text-anchor="start">1.07371</text>
<text transform="translate(1650.5,411) scale(0.885,1)" fill="#fff" stroke="#fff" font-size="10.2" text-anchor="start">1.07206</text>
<text transform="translate(1650.5,458) scale(0.885,1)" fill="#fff" stroke="#fff" font-size="10.2" text-anchor="start">1.06963</text>
<text transform="translate(1650.5,488) scale(0.885,1)" fill="#fff" stroke="#fff" font-size="10.2" text-anchor="start">1.06808</text>
<text transform="translate(1650.5,428) scale(0.885,1)" fill="#fff" stroke="#fff" font-size="10.2" text-anchor="start">1.07120</text>
<text transform="translate(1648,601.5) scale(0.885,1)" fill="#000" stroke="#000" font-size="10.2" text-anchor="start">0.001038</text>
<text transform="translate(1648,619.5) scale(0.885,1)" fill="#000" stroke="#000" font-size="10.2" text-anchor="start">0.00</text>
<text transform="translate(1648,699) scale(0.885,1)" fill="#000" stroke="#000" font-size="10.2" text-anchor="start">-0.003759</text>
<text transform="translate(1647.5,715) scale(0.885,1)" fill="#000" stroke="#000" font-size="10.2" text-anchor="start">100</text>
<text transform="translate(1647.5,730.5) scale(0.885,1)" fill="#000" stroke="#000" font-size="10.2" text-anchor="start">80</text>
<text transform="translate(1647.5,763) scale(0.885,1)" fill="#000" stroke="#000" font-size="10.2" text-anchor="start">50</text>
<text transform="translate(1647.5,801) scale(0.885,1)" fill="#000" stroke="#000" font-size="10.2" text-anchor="start">15</text>
<text transform="translate(1648,811) scale(0.885,1)" fill="#000" stroke="#000" font-size="10.2" text-anchor="start">0</text>
<text transform="translate(20.2,37) scale(0.885,1)" fill="#000" stroke="#000" font-size="10.2" text-anchor="start" textLength="64.18">EURUSD-,H4</text>
<text transform="translate(83.5,37) scale(0.885,1)" fill="#000" stroke="#000" font-size="10.2" text-anchor="start" textLength="36.95">1.07228</text>
<text transform="translate(119.5,37) scale(0.885,1)" fill="#000" stroke="#000" font-size="10.2" text-anchor="start" textLength="36.95">1.07233</text>
<text transform="translate(155.5,37) scale(0.885,1)" fill="#000" stroke="#000" font-size="10.2" text-anchor="start" textLength="36.95">1.07052</text>
<text transform="translate(191.5,37) scale(0.885,1)" fill="#000" stroke="#000" font-size="10.2" text-anchor="start" textLength="36.95">1.07120</text>
<text transform="translate(9.5,604) scale(0.885,1)" fill="#000" stroke="#000" font-size="10.2" text-anchor="start" textLength="167.01">MACD(12,26,9) 0.000437 0.000017</text>
<text transform="translate(9,717) scale(0.885,1)" fill="#000" stroke="#000" font-size="10.2" text-anchor="start" textLength="77.40">RSI(14) 46.5628</text>
<text transform="translate(4.4,826.7) scale(0.885,1)" fill="#000" stroke="#000" font-size="10.2" text-anchor="start" textLength="61.02">15 May 2023</text>
<text transform="translate(68.4,826.7) scale(0.885,1)" fill="#000" stroke="#000" font-size="10.2" text-anchor="start" textLength="65.54">15 May 16:00</text>
<text transform="translate(132.4,826.7) scale(0.885,1)" fill="#000" stroke="#000" font-size="10.2" text-anchor="start" textLength="65.54">16 May 08:00</text>
<text transform="translate(196.4,826.7) scale(0.885,1)" fill="#000" stroke="#000" font-size="10.2" text-anchor="start" textLength="65.54">17 May 00:00</text>
<text transform="translate(260.4,826.7) scale(0.885,1)" fill="#000" stroke="#000" font-size="10.2" text-anchor="start" textLength="65.54">17 May 16:00</text>
<text transform="translate(324.4,826.7) scale(0.885,1)" fill="#000" stroke="#000" font-size="10.2" text-anchor="start" textLength="65.54">18 May 08:00</text>
<text transform="translate(388.4,826.7) scale(0.885,1)" fill="#000" stroke="#000" font-size="10.2" text-anchor="start" textLength="65.54">19 May 00:00</text>
<text transform="translate(452.4,826.7) scale(0.885,1)" fill="#000" stroke="#000" font-size="10.2" text-anchor="start" textLength="65.54">19 May 16:00</text>
<text transform="translate(516.4,826.7) scale(0.885,1)" fill="#000" stroke="#000" font-size="10.2" text-anchor="start" textLength="65.54">22 May 08:00</text>
<text transform="translate(580.4,826.7) scale(0.885,1)" fill="#000" stroke="#000" font-size="10.2" text-anchor="start" textLength="65.54">23 May 00:00</text>
<text transform="translate(644.4,826.7) scale(0.885,1)" fill="#000" stroke="#000" font-size="10.2" text-anchor="start" textLength="65.54">23 May 16:00</text>
<text transform="translate(708.4,826.7) scale(0.885,1)" fill="#000" stroke="#000" font-size="10.2" text-anchor="start" textLength="65.54">24 May 08:00</text>
<text transform="translate(772.4,826.7) scale(0.885,1)" fill="#000" stroke="#000" font-size="10.2" text-anchor="start" textLength="65.54">25 May 00:00</text>
<text transform="translate(836.4,826.7) scale(0.885,1)" fill="#000" stroke="#000" font-size="10.2" text-anchor="start" textLength="65.54">25 May 16:00</text>
<text transform="translate(900.4,826.7) scale(0.885,1)" fill="#000" stroke="#000" font-size="10.2" text-anchor="start" textLength="65.54">26 May 08:00</text>
<text transform="translate(964.4,826.7) scale(0.885,1)" fill="#000" stroke="#000" font-size="10.2" text-anchor="start" textLength="65.54">29 May 00:00</text>
<text transform="translate(1028.4,826.7) scale(0.885,1)" fill="#000" stroke="#000" font-size="10.2" text-anchor="start" textLength="65.54">29 May 16:00</text>
<text transform="translate(1092.4,826.7) scale(0.885,1)" fill="#000" stroke="#000" font-size="10.2" text-anchor="start" textLength="65.54">30 May 08:00</text>
<text transform="translate(1156.4,826.7) scale(0.885,1)" fill="#000" stroke="#000" font-size="10.2" text-anchor="start" textLength="65.54">31 May 00:00</text>
<text transform="translate(1220.4,826.7) scale(0.885,1)" fill="#000" stroke="#000" font-size="10.2" text-anchor="start" textLength="65.54">31 May 16:00</text>
<text transform="translate(1284.4,826.7) scale(0.885,1)" fill="#000" stroke="#000" font-size="10.2" text-anchor="start" textLength="54.24">1 Jun 08:00</text>
<text transform="translate(1348.4,826.7) scale(0.885,1)" fill="#000" stroke="#000" font-size="10.2" text-anchor="start" textLength="54.24">2 Jun 00:00</text>
<text transform="translate(1412.4,826.7) scale(0.885,1)" fill="#000" stroke="#000" font-size="10.2" text-anchor="start" textLength="54.24">2 Jun 16:00</text>
</g>
<polygon points="8,32 15,32 11.5,36" fill="#000"/>
<polygon points="1441.3,25.5 1451.5,25.5 1446.4,31.2" fill="#000"/>
</svg>
<div id="tb">
<svg width="1692" height="21" viewBox="0 0 1692 21">
<defs>
<linearGradient id="gGold" x1="0" y1="0" x2="1" y2="1"><stop offset="0" stop-color="#f8dd62"/><stop offset="1" stop-color="#cc9214"/></linearGradient>
<linearGradient id="gGreen" x1="0" y1="0" x2="0" y2="1"><stop offset="0" stop-color="#5cf05c"/><stop offset="1" stop-color="#0fae0f"/></linearGradient>
<linearGradient id="gRed" x1="0" y1="0" x2="0" y2="1"><stop offset="0" stop-color="#e8583c"/><stop offset="1" stop-color="#d82612"/></linearGradient>
<linearGradient id="gBlue" x1="0" y1="0" x2="0" y2="1"><stop offset="0" stop-color="#3f8ee8"/><stop offset="1" stop-color="#1553bd"/></linearGradient>
</defs>
<g shape-rendering="crispEdges">
<rect x="280" y="0" width="24" height="19" fill="#f8f8f8"/>
<rect x="279" y="19" width="25" height="1" fill="#ffffff"/>
<rect x="432" y="0" width="24" height="19" fill="#f8f8f8"/>
<rect x="431" y="19" width="25" height="1" fill="#ffffff"/>
<rect x="460" y="0" width="24" height="19" fill="#f8f8f8"/>
<rect x="459" y="19" width="25" height="1" fill="#ffffff"/>
<rect x="620" y="0" width="25" height="19" fill="#f8f8f8"/>
<rect x="619" y="19" width="26" height="1" fill="#ffffff"/>
<rect x="1066" y="0" width="24" height="19" fill="#f8f8f8"/>
<rect x="1065" y="19" width="25" height="1" fill="#ffffff"/>
<rect x="5" y="0" width="1" height="19" fill="#9c9c9c"/>
<rect x="241" y="0" width="1" height="19" fill="#9c9c9c"/>
<rect x="279" y="0" width="1" height="19" fill="#9c9c9c"/>
<rect x="336" y="0" width="1" height="19" fill="#9c9c9c"/>
<rect x="426" y="0" width="1" height="19" fill="#9c9c9c"/>
<rect x="431" y="0" width="1" height="19" fill="#9c9c9c"/>
<rect x="459" y="0" width="1" height="19" fill="#9c9c9c"/>
<rect x="488" y="0" width="1" height="19" fill="#9c9c9c"/>
<rect x="609" y="0" width="1" height="19" fill="#9c9c9c"/>
<rect x="619" y="0" width="1" height="19" fill="#9c9c9c"/>
<rect x="676" y="0" width="1" height="19" fill="#9c9c9c"/>
<rect x="915" y="0" width="1" height="19" fill="#9c9c9c"/>
<rect x="1065" y="0" width="1" height="19" fill="#9c9c9c"/>
<rect x="1176" y="0" width="1" height="19" fill="#9c9c9c"/>
<rect x="245" y="1" width="3" height="1" fill="#a6a6a6"/>
<rect x="245" y="3" width="3" height="1" fill="#a6a6a6"/>
<rect x="245" y="5" width="3" height="1" fill="#a6a6a6"/>
<rect x="245" y="7" width="3" height="1" fill="#a6a6a6"/>
<rect x="245" y="9" width="3" height="1" fill="#a6a6a6"/>
<rect x="245" y="11" width="3" height="1" fill="#a6a6a6"/>
<rect x="245" y="13" width="3" height="1" fill="#a6a6a6"/>
<rect x="245" y="15" width="3" height="1" fill="#a6a6a6"/>
<rect x="245" y="17" width="3" height="1" fill="#a6a6a6"/>
<rect x="613" y="1" width="3" height="1" fill="#a6a6a6"/>
<rect x="613" y="3" width="3" height="1" fill="#a6a6a6"/>
<rect x="613" y="5" width="3" height="1" fill="#a6a6a6"/>
<rect x="613" y="7" width="3" height="1" fill="#a6a6a6"/>
<rect x="613" y="9" width="3" height="1" fill="#a6a6a6"/>
<rect x="613" y="11" width="3" height="1" fill="#a6a6a6"/>
<rect x="613" y="13" width="3" height="1" fill="#a6a6a6"/>
<rect x="613" y="15" width="3" height="1" fill="#a6a6a6"/>
<rect x="613" y="17" width="3" height="1" fill="#a6a6a6"/>
<rect x="919" y="1" width="3" height="1" fill="#a6a6a6"/>
<rect x="919" y="3" width="3" height="1" fill="#a6a6a6"/>
<rect x="919" y="5" width="3" height="1" fill="#a6a6a6"/>
<rect x="919" y="7" width="3" height="1" fill="#a6a6a6"/>
<rect x="919" y="9" width="3" height="1" fill="#a6a6a6"/>
<rect x="919" y="11" width="3" height="1" fill="#a6a6a6"/>
<rect x="919" y="13" width="3" height="1" fill="#a6a6a6"/>
<rect x="919" y="15" width="3" height="1" fill="#a6a6a6"/>
<rect x="919" y="17" width="3" height="1" fill="#a6a6a6"/>
</g>
<path d="M15.5,1.8 h7.5 l4,4 v8.5 h-11.5 z" fill="#fdfdfd" stroke="#808080" stroke-width="1"/>
<path d="M23.0,1.8 v4 h4" fill="#e4e4e4" stroke="#8f8f8f" stroke-width="0.8"/>
<rect x="17.5" y="4.4" width="4" height="1" fill="#9c9c9c"/>
<rect x="17.5" y="7.0" width="6" height="1" fill="#9c9c9c"/>
<rect x="17.5" y="9.600000000000001" width="6" height="1" fill="#9c9c9c"/>
<polygon points="23.75,7.3 26.65,7.3 26.65,11.55 30.9,11.55 30.9,14.45 26.65,14.45 26.65,18.7 23.75,18.7 23.75,14.45 19.5,14.45 19.5,11.55 23.75,11.55" fill="url(#gGreen)" stroke="#0c8a0c" stroke-width="0.9"/>
<polygon points="87.5,2.4 98,8.6 96.8,11.2 90.8,16.6 82,10.6" fill="#a87414"/>
<polygon points="87.8,3 97,8.6 90.4,14.8 83.2,10.2" fill="url(#gGold)"/>
<polygon points="88,4.2 93,7.2 88.6,11.6 84.6,9.6" fill="#fbe98c" opacity="0.7"/>
<polygon points="113.2,2.6 120.5,1.4 123.4,3 123.4,11.5 113.2,11.5" fill="#2d8cee"/>
<polygon points="113.2,2.6 116,3.6 116,11.5 113.2,11.5" fill="#8fd0ff"/>
<polygon points="116,3.6 123.4,3 123.4,11.5 116,11.5" fill="#1f7be0"/>
<rect x="117.5" y="5.2" width="4.5" height="1" fill="#bfe0ff"/>
<path d="M113,16.4 a2.7,2.7 0 0 1 0.2,-5.2 a3.2,3.2 0 0 1 5.8,-0.6 a2.8,2.8 0 0 1 4.6,1.6 a2.3,2.3 0 0 1 -0.4,4.2 z" fill="#e3ebf6" stroke="#6f8fc4" stroke-width="0.9"/>
<circle cx="146" cy="8.9" r="7.6" fill="#f4f7fb"/>
<g fill="none" stroke-linecap="round">
<path d="M146,1.3 A7.6,7.6 0 0 0 146,16.5" stroke="#86a6e6" stroke-width="1.1"/>
<path d="M146,3.7 A5.2,5.2 0 0 0 146,14.1" stroke="#6f92e0" stroke-width="1.1"/>
<path d="M146,6 A2.9,2.9 0 0 0 146,11.8" stroke="#5a80da" stroke-width="1"/>
<path d="M146,1.3 A7.6,7.6 0 0 1 153.6,8.9" stroke="#a9bfe8" stroke-width="1.1"/>
<path d="M146,3.7 A5.2,5.2 0 0 1 151.2,8.9" stroke="#94b0e6" stroke-width="1.1"/>
<path d="M153.6,8.9 A7.6,7.6 0 0 1 147,16.4" stroke="#5cb56c" stroke-width="1.6"/>
<path d="M151.2,8.9 A5.2,5.2 0 0 1 147,14" stroke="#7cc689" stroke-width="1.4"/>
</g>
<path d="M147,9.4 L147,16 A7,7 0 0 0 152.6,10 Z" fill="#8fd09a" opacity="0.55"/>
<rect x="145.9" y="9" width="1.4" height="7.8" fill="#1f9a35"/>
<circle cx="146" cy="8.7" r="1.7" fill="#2a5bd7"/>
<polygon points="166.5,8.5 181,8.5 177,16.6 171.5,16.6" fill="#f6d63c" stroke="#c59a1c" stroke-width="0.8"/>
<ellipse cx="173.2" cy="6.6" rx="8" ry="2.7" fill="#4a9fdc" stroke="#2f7fc0" stroke-width="0.6"/>
<ellipse cx="173.2" cy="4.4" rx="4.4" ry="3.2" fill="#66b6ea"/>
<circle cx="177.7" cy="12.7" r="4.2" fill="#d62a18"/>
<rect x="176" y="11" width="3.4" height="3.4" fill="#ffffff"/>
<g shape-rendering="crispEdges" fill="#4d4d4d"><rect x="259" y="4" width="1" height="13"/><rect x="257" y="14" width="12" height="1"/></g>
<polygon points="259.5,2.6 261.3,5.6 257.7,5.6" fill="#4d4d4d"/>
<polygon points="271.2,14.5 268.2,12.7 268.2,16.3" fill="#4d4d4d"/>
<g shape-rendering="crispEdges" fill="#1c8c1c"><rect x="265" y="4" width="1" height="9"/><rect x="266" y="5" width="2" height="1"/><rect x="263" y="11" width="2" height="1"/></g>
<g shape-rendering="crispEdges" fill="#4d4d4d"><rect x="287" y="4" width="1" height="13"/><rect x="285" y="14" width="12" height="1"/></g>
<polygon points="287.5,2.6 289.3,5.6 285.7,5.6" fill="#4d4d4d"/>
<polygon points="299.2,14.5 296.2,12.7 296.2,16.3" fill="#4d4d4d"/>
<rect x="293" y="1" width="1" height="12" fill="#0c8a0c" shape-rendering="crispEdges"/>
<rect x="291.4" y="3.2" width="4.4" height="7.4" fill="url(#gGreen)" stroke="#0c8a0c" stroke-width="0.9"/>
<g shape-rendering="crispEdges" fill="#4d4d4d"><rect x="315" y="4" width="1" height="13"/><rect x="313" y="14" width="12" height="1"/></g>
<polygon points="315.5,2.6 317.3,5.6 313.7,5.6" fill="#4d4d4d"/>
<polygon points="327.2,14.5 324.2,12.7 324.2,16.3" fill="#4d4d4d"/>
<path d="M314.3,11.6 C316.5,10.5 318.5,6.2 320.4,6.3 S324,9.6 326,10.1" fill="none" stroke="#2a972a" stroke-width="1.2"/>
<g shape-rendering="crispEdges" fill="#4d4d4d"><rect x="439" y="4" width="1" height="13"/><rect x="437" y="14" width="12" height="1"/></g>
<polygon points="439.5,2.6 441.3,5.6 437.7,5.6" fill="#4d4d4d"/>
<polygon points="451.2,14.5 448.2,12.7 448.2,16.3" fill="#4d4d4d"/>
<polygon points="444.5,5.2 447.8,8.3 444.5,11.4" fill="#3fd03f" stroke="#0c8a0c" stroke-width="0.8"/>
<g shape-rendering="crispEdges" fill="#4d4d4d"><rect x="467" y="4" width="1" height="13"/><rect x="465" y="14" width="12" height="1"/></g>
<polygon points="467.5,2.6 469.3,5.6 465.7,5.6" fill="#4d4d4d"/>
<polygon points="479.2,14.5 476.2,12.7 476.2,16.3" fill="#4d4d4d"/>
<rect x="473" y="3" width="1" height="10" fill="#1b6fb0" shape-rendering="crispEdges"/>
<polygon points="474.6,8.4 477.4,5.8 477.4,7.8 479,7.8 479,9 477.4,9 477.4,11" fill="#de4a16"/>
<line x1="354.8" y1="11.100000000000001" x2="360.0" y2="15.5" stroke="#a67c12" stroke-width="3.4" stroke-linecap="round"/>
<line x1="355.0" y1="11.3" x2="359.9" y2="15.4" stroke="#ecc83a" stroke-width="1.9" stroke-linecap="round"/>
<circle cx="351.2" cy="6.9" r="5.2" fill="#d9ecfb" stroke="#3b79d2" stroke-width="1.3"/>
<rect x="348.0" y="6.050000000000001" width="6.4" height="1.7" fill="#3f82b8"/>
<rect x="350.34999999999997" y="3.7" width="1.7" height="6.4" fill="#3f82b8"/>
<line x1="382.70000000000005" y1="11.3" x2="387.90000000000003" y2="15.7" stroke="#a67c12" stroke-width="3.4" stroke-linecap="round"/>
<line x1="382.90000000000003" y1="11.5" x2="387.8" y2="15.6" stroke="#ecc83a" stroke-width="1.9" stroke-linecap="round"/>
<circle cx="379.1" cy="7.1" r="5.2" fill="#d9ecfb" stroke="#3b79d2" stroke-width="1.3"/>
<rect x="375.90000000000003" y="6.25" width="6.4" height="1.7" fill="#3f82b8"/>
<rect x="401.4" y="1.4" width="7.6" height="7.5" fill="#3aa024"/>
<rect x="402.7" y="4.4" width="5" height="3.4" fill="#ffffff" opacity="0.85"/>
<rect x="403.59999999999997" y="5.6" width="3.2" height="0.9" fill="#3aa024" opacity="0.55"/>
<rect x="409.2" y="1.4" width="7.6" height="7.5" fill="#2456d0"/>
<rect x="410.5" y="4.4" width="5" height="3.4" fill="#ffffff" opacity="0.85"/>
<rect x="411.4" y="5.6" width="3.2" height="0.9" fill="#2456d0" opacity="0.55"/>
<rect x="401.4" y="9.1" width="7.6" height="7.5" fill="#2456d0"/>
<rect x="402.7" y="12.1" width="5" height="3.4" fill="#ffffff" opacity="0.85"/>
<rect x="403.59999999999997" y="13.3" width="3.2" height="0.9" fill="#2456d0" opacity="0.55"/>
<rect x="409.2" y="9.1" width="7.6" height="7.5" fill="#3aa024"/>
<rect x="410.5" y="12.1" width="5" height="3.4" fill="#ffffff" opacity="0.85"/>
<rect x="411.4" y="13.3" width="3.2" height="0.9" fill="#3aa024" opacity="0.55"/>
<path d="M498.3,1.6 h7.5 l4,4 v8.5 h-11.5 z" fill="#fdfdfd" stroke="#808080" stroke-width="1"/>
<path d="M505.8,1.6 v4 h4" fill="#e4e4e4" stroke="#8f8f8f" stroke-width="0.8"/>
<rect x="500.3" y="4.2" width="4" height="1" fill="#9c9c9c"/>
<rect x="500.3" y="6.800000000000001" width="6" height="1" fill="#9c9c9c"/>
<rect x="500.3" y="9.4" width="6" height="1" fill="#9c9c9c"/>
<text x="500.2" y="10.5" font-size="8" font-style="italic" fill="#555" style="font-family:'Liberation Serif',serif">f</text>
<polygon points="506.35,7.2 509.25,7.2 509.25,11.45 513.5,11.45 513.5,14.35 509.25,14.35 509.25,18.6 506.35,18.6 506.35,14.35 502.1,14.35 502.1,11.45 506.35,11.45" fill="url(#gGreen)" stroke="#0c8a0c" stroke-width="0.9"/>
<polygon points="520,7.8 525.5,7.8 522.75,11.3" fill="#000"/>
<polygon points="558.8,7.8 564.3,7.8 561.55,11.3" fill="#000"/>
<polygon points="598,7.8 603.5,7.8 600.75,11.3" fill="#000"/>
<polygon points="903.8,7.8 909.3,7.8 906.55,11.3" fill="#000"/>
<circle cx="544.2" cy="8.8" r="6.8" fill="#f1f3f6" stroke="url(#gBlue)" stroke-width="2.6"/>
<path d="M544.2,8.8 V4.8 M544.2,8.8 L547.4,9.6" stroke="#333" stroke-width="1" fill="none"/>
<circle cx="544.2" cy="8.8" r="5.4" fill="none" stroke="#cfd6e2" stroke-width="0.6" stroke-dasharray="0.7,2.1"/>
<rect x="575.6" y="2.6" width="15.4" height="13" fill="#ffffff" stroke="#2b6fd2" stroke-width="1"/>
<rect x="575.6" y="2.6" width="15.4" height="2.6" fill="#3d84e6"/>
<rect x="575.6" y="10.4" width="15.4" height="1" fill="#2b6fd2"/>
<polyline points="577.4,8.4 579.6,8 581.6,6.8 583.8,7.6 586,7.2 588.4,6.4 589.4,6.6" fill="none" stroke="#b4281a" stroke-width="1.1"/>
<polyline points="577.8,13.8 580,13.2 582.2,13.8 584.4,12.6 586.6,11.8 588.4,13 589.2,13.6" fill="none" stroke="#229a33" stroke-width="1.1"/>
<polygon points="627.2,2.2 627.2,12.9 629.8,10.6 632.2,15.9 634.1,15.1 631.8,10 635.3,9.8" fill="#555555"/>
<g shape-rendering="crispEdges" fill="#555555"><rect x="652" y="9" width="7" height="1"/><rect x="660" y="9" width="7" height="1"/><rect x="659" y="2" width="1" height="6"/><rect x="659" y="11" width="1" height="6"/>
<rect x="693" y="3" width="1" height="13"/><rect x="716" y="9" width="12" height="1"/></g>
<line x1="743.8" y1="15.8" x2="756.2" y2="3.8" stroke="#555555" stroke-width="1.15"/>
<g stroke="#555555" stroke-width="1" fill="none">
<line x1="769.6" y1="10.8" x2="778.6" y2="3"/><line x1="772" y1="14" x2="781.6" y2="5.6"/><line x1="775" y1="15.8" x2="783.8" y2="7.8"/>
<line x1="773" y1="9" x2="772.2" y2="14.4"/><line x1="776" y1="6.6" x2="775.2" y2="12.4"/><line x1="779" y1="4.6" x2="778.2" y2="10"/><line x1="781.6" y1="1.2" x2="781.4" y2="7.8"/>
</g>
<text x="780.6" y="17.7" font-size="7" font-weight="bold" fill="#3a3a3a" style="font-family:'Liberation Sans',sans-serif">E</text>
<g stroke="#555555" stroke-width="1" stroke-dasharray="1,1">
<line x1="799" y1="2.5" x2="812" y2="2.5"/>
<line x1="799" y1="5.5" x2="812" y2="5.5"/>
<line x1="799" y1="9.6" x2="812" y2="9.6"/>
<line x1="799" y1="13.6" x2="808" y2="13.6"/>
</g>
<text x="808.6" y="17.7" font-size="7" font-weight="bold" fill="#3a3a3a" style="font-family:'Liberation Sans',sans-serif">F</text>
<text x="829.6" y="14.2" font-size="12.5" fill="#555555" stroke="#555555" stroke-width="0.45" style="font-family:'Liberation Sans',sans-serif">A</text>
<rect x="856.5" y="3.5" width="11" height="12" fill="none" stroke="#555555" stroke-width="1" stroke-dasharray="1,1" shape-rendering="crispEdges"/>
<text x="862" y="13.8" font-size="10.5" font-weight="bold" text-anchor="middle" fill="#555555" style="font-family:'Liberation Sans',sans-serif">T</text>
<polygon points="886.5,2.6 890,6.2 886.5,8.2 883,6.2" fill="#555555"/>
<polygon points="893.8,16.2 897.3,12.4 893.8,10.6 890.3,12.4" fill="#555555"/>
<polyline points="885.6,10.2 888.2,12.4 892.4,7.2" fill="none" stroke="#555555" stroke-width="1.5"/>
<line x1="1643.2" y1="9.8" x2="1639" y2="13.8" stroke="#2458cc" stroke-width="2.4" stroke-linecap="round"/>
<circle cx="1646.6" cy="6.4" r="4" fill="#fbfbff" stroke="#2d62dc" stroke-width="1.2"/>
<path d="M1663.4,11.2 a4.8,4.3 0 1 1 4.4,4.2 l-2,1.9 l0.3,-2.3 a4.6,4.2 0 0 1 -2.7,-3.8 z" fill="#dedee9" stroke="#a3a3a8" stroke-width="0.8"/>
<circle cx="1677.4" cy="7" r="8.1" fill="url(#gRed)"/>
<text x="1677.2" y="11" font-size="12.5" text-anchor="middle" fill="#ffffff" style="font-family:'Liberation Sans',sans-serif">1</text>
</svg>
<span class="t" style="left:33.6px;top:-0.5px;font-size:12px;line-height:18px;font-weight:500;">新订单</span>
<span class="t" style="left:186.2px;top:-0.5px;font-size:11.9px;line-height:18px;font-weight:500;">自动交易</span>
<span class="tf" style="left:916.8px;width:40px;text-align:center;">M1</span>
<span class="tf" style="left:945px;width:40px;text-align:center;">M5</span>
<span class="tf" style="left:973.3px;width:40px;text-align:center;">M15</span>
<span class="tf" style="left:1001.3px;width:40px;text-align:center;">M30</span>
<span class="tf" style="left:1029.2px;width:40px;text-align:center;">H1</span>
<span class="tf" style="left:1056.5px;width:40px;text-align:center;">H4</span>
<span class="tf" style="left:1085px;width:40px;text-align:center;">D1</span>
<span class="tf" style="left:1113.9px;width:40px;text-align:center;">W1</span>
<span class="tf" style="left:1141.2px;width:40px;text-align:center;">MN</span>
</div>
</body>
</html>
